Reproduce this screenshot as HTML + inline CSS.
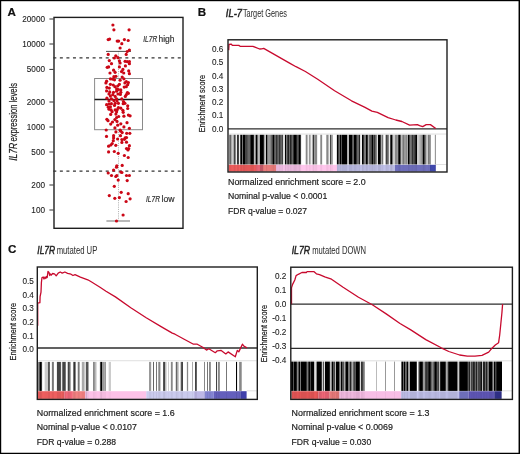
<!DOCTYPE html>
<html><head><meta charset="utf-8"><style>
html,body{margin:0;padding:0;background:#fff;width:520px;height:454px;overflow:hidden}
svg{display:block;will-change:transform}
text{font-family:"Liberation Sans", sans-serif}
</style></head><body>
<svg width="520" height="454" viewBox="0 0 520 454" font-family='"Liberation Sans", sans-serif' fill="#1c1c1c"><text x="7.60" y="15.70" font-size="11.6" stroke="#111" stroke-width="0.2" font-weight="bold" fill="#111">A</text>
<rect x="54" y="17.4" width="129" height="210.9" fill="none" stroke="#1e1e1e" stroke-width="1.4"/>
<line x1="49.4" y1="19" x2="53.5" y2="19" stroke="#333" stroke-width="1"/>
<text x="45.00" y="21.90" font-size="8.2" stroke="#1c1c1c" stroke-width="0.1" text-anchor="end">20000</text>
<line x1="49.4" y1="44" x2="53.5" y2="44" stroke="#333" stroke-width="1"/>
<text x="45.00" y="46.90" font-size="8.2" stroke="#1c1c1c" stroke-width="0.1" text-anchor="end">10000</text>
<line x1="49.4" y1="69.4" x2="53.5" y2="69.4" stroke="#333" stroke-width="1"/>
<text x="45.00" y="72.30" font-size="8.2" stroke="#1c1c1c" stroke-width="0.1" text-anchor="end">5000</text>
<line x1="49.4" y1="102" x2="53.5" y2="102" stroke="#333" stroke-width="1"/>
<text x="45.00" y="104.90" font-size="8.2" stroke="#1c1c1c" stroke-width="0.1" text-anchor="end">2000</text>
<line x1="49.4" y1="127" x2="53.5" y2="127" stroke="#333" stroke-width="1"/>
<text x="45.00" y="129.90" font-size="8.2" stroke="#1c1c1c" stroke-width="0.1" text-anchor="end">1000</text>
<line x1="49.4" y1="152" x2="53.5" y2="152" stroke="#333" stroke-width="1"/>
<text x="45.00" y="154.90" font-size="8.2" stroke="#1c1c1c" stroke-width="0.1" text-anchor="end">500</text>
<line x1="49.4" y1="185" x2="53.5" y2="185" stroke="#333" stroke-width="1"/>
<text x="45.00" y="187.90" font-size="8.2" stroke="#1c1c1c" stroke-width="0.1" text-anchor="end">200</text>
<line x1="49.4" y1="210" x2="53.5" y2="210" stroke="#333" stroke-width="1"/>
<text x="45.00" y="212.90" font-size="8.2" stroke="#1c1c1c" stroke-width="0.1" text-anchor="end">100</text>
<text x="17.00" y="160.80" font-size="10" stroke="#1c1c1c" stroke-width="0.2" font-style="italic" textLength="18.00" lengthAdjust="spacingAndGlyphs" transform="rotate(-90 17.00 160.80)">IL7R</text>
<text x="17.00" y="141.50" font-size="10" stroke="#1c1c1c" stroke-width="0.2" textLength="58.50" lengthAdjust="spacingAndGlyphs" transform="rotate(-90 17.00 141.50)">expression levels</text>
<line x1="118.5" y1="51.3" x2="118.5" y2="78.5" stroke="#999" stroke-width="0.8" stroke-dasharray="1,1.2"/>
<line x1="118.5" y1="129.7" x2="118.5" y2="221" stroke="#999" stroke-width="0.8" stroke-dasharray="1,1.2"/>
<rect x="94.6" y="78.5" width="47.9" height="51.2" fill="none" stroke="#8a8a8a" stroke-width="1"/>
<line x1="94.6" y1="99.5" x2="142.5" y2="99.5" stroke="#1a1a1a" stroke-width="1.6"/>
<line x1="106" y1="51.4" x2="131" y2="51.4" stroke="#3a3a3a" stroke-width="0.9"/>
<line x1="106.4" y1="221" x2="130" y2="221" stroke="#a8a8a8" stroke-width="1.6"/>
<line x1="53.3" y1="57.9" x2="182.3" y2="57.9" stroke="#333" stroke-width="1.3" stroke-dasharray="3,3.55"/>
<line x1="53.3" y1="171.1" x2="182.3" y2="171.1" stroke="#333" stroke-width="1.3" stroke-dasharray="3,3.55"/>
<text x="143.20" y="42.30" font-size="8.5" stroke="#333" stroke-width="0.2" font-style="italic" textLength="14.00" lengthAdjust="spacingAndGlyphs" fill="#333">IL7R</text>
<text x="158.50" y="42.30" font-size="8.5" stroke="#333" stroke-width="0.2" textLength="16.00" lengthAdjust="spacingAndGlyphs" fill="#333">high</text>
<text x="146.00" y="201.70" font-size="8.5" stroke="#333" stroke-width="0.2" font-style="italic" textLength="14.00" lengthAdjust="spacingAndGlyphs" fill="#333">IL7R</text>
<text x="161.50" y="201.70" font-size="8.5" stroke="#333" stroke-width="0.2" textLength="13.00" lengthAdjust="spacingAndGlyphs" fill="#333">low</text>
<circle cx="112.9" cy="25.0" r="1.6" fill="#cb0716"/>
<circle cx="113.9" cy="29.8" r="1.6" fill="#cb0716"/>
<circle cx="129.1" cy="29.8" r="1.6" fill="#cb0716"/>
<circle cx="108.2" cy="39.6" r="1.6" fill="#cb0716"/>
<circle cx="109.6" cy="39.1" r="1.6" fill="#cb0716"/>
<circle cx="117.2" cy="41.1" r="1.6" fill="#cb0716"/>
<circle cx="118.6" cy="41.1" r="1.6" fill="#cb0716"/>
<circle cx="124.4" cy="39.6" r="1.6" fill="#cb0716"/>
<circle cx="128.2" cy="40.5" r="1.6" fill="#cb0716"/>
<circle cx="121.8" cy="43.7" r="1.6" fill="#cb0716"/>
<circle cx="120.1" cy="48.0" r="1.6" fill="#cb0716"/>
<circle cx="129.4" cy="50.1" r="1.6" fill="#cb0716"/>
<circle cx="127.2" cy="51.5" r="1.6" fill="#cb0716"/>
<circle cx="108.2" cy="54.4" r="1.6" fill="#cb0716"/>
<circle cx="126.2" cy="54.4" r="1.6" fill="#cb0716"/>
<circle cx="115.8" cy="55.8" r="1.6" fill="#cb0716"/>
<circle cx="114.3" cy="58.0" r="1.6" fill="#cb0716"/>
<circle cx="117.9" cy="57.7" r="1.6" fill="#cb0716"/>
<circle cx="109.3" cy="60.6" r="1.6" fill="#cb0716"/>
<circle cx="119.4" cy="60.8" r="1.6" fill="#cb0716"/>
<circle cx="125.1" cy="61.3" r="1.6" fill="#cb0716"/>
<circle cx="127.2" cy="61.6" r="1.6" fill="#cb0716"/>
<circle cx="129.4" cy="61.6" r="1.6" fill="#cb0716"/>
<circle cx="111.5" cy="63.7" r="1.6" fill="#cb0716"/>
<circle cx="120.1" cy="63.0" r="1.6" fill="#cb0716"/>
<circle cx="129.4" cy="63.7" r="1.6" fill="#cb0716"/>
<circle cx="107.2" cy="67.3" r="1.6" fill="#cb0716"/>
<circle cx="108.6" cy="66.9" r="1.6" fill="#cb0716"/>
<circle cx="119.4" cy="66.9" r="1.6" fill="#cb0716"/>
<circle cx="125.4" cy="65.9" r="1.6" fill="#cb0716"/>
<circle cx="122.9" cy="69.4" r="1.6" fill="#cb0716"/>
<circle cx="110.0" cy="73.0" r="1.6" fill="#cb0716"/>
<circle cx="113.6" cy="70.2" r="1.6" fill="#cb0716"/>
<circle cx="115.1" cy="72.3" r="1.6" fill="#cb0716"/>
<circle cx="121.5" cy="71.6" r="1.6" fill="#cb0716"/>
<circle cx="123.7" cy="73.0" r="1.6" fill="#cb0716"/>
<circle cx="128.7" cy="70.9" r="1.6" fill="#cb0716"/>
<circle cx="129.4" cy="73.7" r="1.6" fill="#cb0716"/>
<circle cx="113.9" cy="76.7" r="1.6" fill="#cb0716"/>
<circle cx="115.9" cy="76.3" r="1.6" fill="#cb0716"/>
<circle cx="122.2" cy="77.0" r="1.6" fill="#cb0716"/>
<circle cx="123.9" cy="78.8" r="1.6" fill="#cb0716"/>
<circle cx="110.4" cy="78.8" r="1.6" fill="#cb0716"/>
<circle cx="112.5" cy="79.1" r="1.6" fill="#cb0716"/>
<circle cx="114.5" cy="79.8" r="1.6" fill="#cb0716"/>
<circle cx="120.1" cy="80.2" r="1.6" fill="#cb0716"/>
<circle cx="106.6" cy="81.2" r="1.6" fill="#cb0716"/>
<circle cx="126.3" cy="81.5" r="1.6" fill="#cb0716"/>
<circle cx="128.4" cy="82.6" r="1.6" fill="#cb0716"/>
<circle cx="105.9" cy="82.9" r="1.6" fill="#cb0716"/>
<circle cx="124.9" cy="82.9" r="1.6" fill="#cb0716"/>
<circle cx="110.4" cy="84.3" r="1.6" fill="#cb0716"/>
<circle cx="113.2" cy="85.0" r="1.6" fill="#cb0716"/>
<circle cx="119.4" cy="84.3" r="1.6" fill="#cb0716"/>
<circle cx="127.7" cy="84.7" r="1.6" fill="#cb0716"/>
<circle cx="117.7" cy="86.0" r="1.6" fill="#cb0716"/>
<circle cx="114.9" cy="86.7" r="1.6" fill="#cb0716"/>
<circle cx="106.9" cy="87.4" r="1.6" fill="#cb0716"/>
<circle cx="109.3" cy="88.1" r="1.6" fill="#cb0716"/>
<circle cx="124.2" cy="87.1" r="1.6" fill="#cb0716"/>
<circle cx="126.3" cy="86.7" r="1.6" fill="#cb0716"/>
<circle cx="116.6" cy="88.8" r="1.6" fill="#cb0716"/>
<circle cx="120.8" cy="89.9" r="1.6" fill="#cb0716"/>
<circle cx="118.4" cy="89.5" r="1.6" fill="#cb0716"/>
<circle cx="106.6" cy="90.9" r="1.6" fill="#cb0716"/>
<circle cx="109.7" cy="91.9" r="1.6" fill="#cb0716"/>
<circle cx="113.5" cy="92.3" r="1.6" fill="#cb0716"/>
<circle cx="116.6" cy="91.2" r="1.6" fill="#cb0716"/>
<circle cx="120.8" cy="92.3" r="1.6" fill="#cb0716"/>
<circle cx="127.4" cy="92.6" r="1.6" fill="#cb0716"/>
<circle cx="128.4" cy="93.3" r="1.6" fill="#cb0716"/>
<circle cx="109.0" cy="94.0" r="1.6" fill="#cb0716"/>
<circle cx="112.8" cy="94.7" r="1.6" fill="#cb0716"/>
<circle cx="118.0" cy="94.0" r="1.6" fill="#cb0716"/>
<circle cx="120.4" cy="94.4" r="1.6" fill="#cb0716"/>
<circle cx="126.3" cy="94.7" r="1.6" fill="#cb0716"/>
<circle cx="125.3" cy="96.4" r="1.6" fill="#cb0716"/>
<circle cx="110.4" cy="96.1" r="1.6" fill="#cb0716"/>
<circle cx="115.2" cy="96.4" r="1.6" fill="#cb0716"/>
<circle cx="106.9" cy="98.2" r="1.6" fill="#cb0716"/>
<circle cx="111.4" cy="98.9" r="1.6" fill="#cb0716"/>
<circle cx="116.6" cy="98.9" r="1.6" fill="#cb0716"/>
<circle cx="121.8" cy="98.9" r="1.6" fill="#cb0716"/>
<circle cx="109.0" cy="100.9" r="1.6" fill="#cb0716"/>
<circle cx="113.9" cy="100.6" r="1.6" fill="#cb0716"/>
<circle cx="117.0" cy="100.9" r="1.6" fill="#cb0716"/>
<circle cx="123.5" cy="101.6" r="1.6" fill="#cb0716"/>
<circle cx="106.6" cy="104.7" r="1.6" fill="#cb0716"/>
<circle cx="109.0" cy="104.0" r="1.6" fill="#cb0716"/>
<circle cx="111.4" cy="103.7" r="1.6" fill="#cb0716"/>
<circle cx="115.2" cy="103.3" r="1.6" fill="#cb0716"/>
<circle cx="118.4" cy="103.3" r="1.6" fill="#cb0716"/>
<circle cx="123.2" cy="103.7" r="1.6" fill="#cb0716"/>
<circle cx="124.9" cy="103.3" r="1.6" fill="#cb0716"/>
<circle cx="114.5" cy="105.4" r="1.6" fill="#cb0716"/>
<circle cx="127.7" cy="105.8" r="1.6" fill="#cb0716"/>
<circle cx="108.3" cy="107.2" r="1.6" fill="#cb0716"/>
<circle cx="110.4" cy="106.8" r="1.6" fill="#cb0716"/>
<circle cx="118.4" cy="107.5" r="1.6" fill="#cb0716"/>
<circle cx="120.8" cy="108.2" r="1.6" fill="#cb0716"/>
<circle cx="127.7" cy="108.5" r="1.6" fill="#cb0716"/>
<circle cx="109.0" cy="109.2" r="1.6" fill="#cb0716"/>
<circle cx="111.1" cy="109.9" r="1.6" fill="#cb0716"/>
<circle cx="115.2" cy="109.9" r="1.6" fill="#cb0716"/>
<circle cx="117.3" cy="109.6" r="1.6" fill="#cb0716"/>
<circle cx="122.9" cy="110.3" r="1.6" fill="#cb0716"/>
<circle cx="112.1" cy="111.7" r="1.6" fill="#cb0716"/>
<circle cx="116.6" cy="111.7" r="1.6" fill="#cb0716"/>
<circle cx="123.2" cy="112.3" r="1.6" fill="#cb0716"/>
<circle cx="110.7" cy="114.4" r="1.6" fill="#cb0716"/>
<circle cx="115.9" cy="114.1" r="1.6" fill="#cb0716"/>
<circle cx="128.4" cy="115.1" r="1.6" fill="#cb0716"/>
<circle cx="130.1" cy="115.8" r="1.6" fill="#cb0716"/>
<circle cx="123.9" cy="116.2" r="1.6" fill="#cb0716"/>
<circle cx="118.7" cy="116.5" r="1.6" fill="#cb0716"/>
<circle cx="116.6" cy="117.5" r="1.6" fill="#cb0716"/>
<circle cx="106.9" cy="119.3" r="1.6" fill="#cb0716"/>
<circle cx="108.0" cy="120.7" r="1.6" fill="#cb0716"/>
<circle cx="114.9" cy="119.6" r="1.6" fill="#cb0716"/>
<circle cx="117.0" cy="121.4" r="1.6" fill="#cb0716"/>
<circle cx="112.5" cy="122.0" r="1.6" fill="#cb0716"/>
<circle cx="127.0" cy="122.7" r="1.6" fill="#cb0716"/>
<circle cx="110.7" cy="124.1" r="1.6" fill="#cb0716"/>
<circle cx="120.8" cy="123.8" r="1.6" fill="#cb0716"/>
<circle cx="117.7" cy="125.2" r="1.6" fill="#cb0716"/>
<circle cx="123.9" cy="126.9" r="1.6" fill="#cb0716"/>
<circle cx="114.9" cy="127.9" r="1.6" fill="#cb0716"/>
<circle cx="129.4" cy="128.3" r="1.6" fill="#cb0716"/>
<circle cx="106.2" cy="130.0" r="1.6" fill="#cb0716"/>
<circle cx="120.1" cy="130.0" r="1.6" fill="#cb0716"/>
<circle cx="115.9" cy="131.9" r="1.6" fill="#cb0716"/>
<circle cx="120.8" cy="131.2" r="1.6" fill="#cb0716"/>
<circle cx="122.2" cy="132.6" r="1.6" fill="#cb0716"/>
<circle cx="126.7" cy="133.3" r="1.6" fill="#cb0716"/>
<circle cx="129.8" cy="133.3" r="1.6" fill="#cb0716"/>
<circle cx="106.5" cy="136.4" r="1.6" fill="#cb0716"/>
<circle cx="113.6" cy="135.7" r="1.6" fill="#cb0716"/>
<circle cx="113.6" cy="137.9" r="1.6" fill="#cb0716"/>
<circle cx="120.5" cy="135.7" r="1.6" fill="#cb0716"/>
<circle cx="125.1" cy="137.9" r="1.6" fill="#cb0716"/>
<circle cx="126.5" cy="137.6" r="1.6" fill="#cb0716"/>
<circle cx="117.6" cy="139.0" r="1.6" fill="#cb0716"/>
<circle cx="121.9" cy="139.6" r="1.6" fill="#cb0716"/>
<circle cx="113.3" cy="140.7" r="1.6" fill="#cb0716"/>
<circle cx="124.4" cy="139.3" r="1.6" fill="#cb0716"/>
<circle cx="121.9" cy="142.4" r="1.6" fill="#cb0716"/>
<circle cx="126.5" cy="142.2" r="1.6" fill="#cb0716"/>
<circle cx="112.2" cy="143.6" r="1.6" fill="#cb0716"/>
<circle cx="110.8" cy="145.0" r="1.6" fill="#cb0716"/>
<circle cx="108.6" cy="146.2" r="1.6" fill="#cb0716"/>
<circle cx="115.8" cy="145.3" r="1.6" fill="#cb0716"/>
<circle cx="129.4" cy="145.7" r="1.6" fill="#cb0716"/>
<circle cx="126.5" cy="148.6" r="1.6" fill="#cb0716"/>
<circle cx="128.7" cy="148.6" r="1.6" fill="#cb0716"/>
<circle cx="128.0" cy="150.0" r="1.6" fill="#cb0716"/>
<circle cx="108.6" cy="151.9" r="1.6" fill="#cb0716"/>
<circle cx="114.3" cy="151.5" r="1.6" fill="#cb0716"/>
<circle cx="118.2" cy="153.3" r="1.6" fill="#cb0716"/>
<circle cx="124.4" cy="155.5" r="1.6" fill="#cb0716"/>
<circle cx="128.2" cy="157.5" r="1.6" fill="#cb0716"/>
<circle cx="116.8" cy="165.8" r="1.6" fill="#cb0716"/>
<circle cx="116.5" cy="167.2" r="1.6" fill="#cb0716"/>
<circle cx="122.2" cy="165.4" r="1.6" fill="#cb0716"/>
<circle cx="113.6" cy="170.1" r="1.6" fill="#cb0716"/>
<circle cx="108.2" cy="173.0" r="1.6" fill="#cb0716"/>
<circle cx="120.8" cy="172.0" r="1.6" fill="#cb0716"/>
<circle cx="121.9" cy="172.5" r="1.6" fill="#cb0716"/>
<circle cx="111.5" cy="175.5" r="1.6" fill="#cb0716"/>
<circle cx="115.8" cy="176.5" r="1.6" fill="#cb0716"/>
<circle cx="116.8" cy="175.5" r="1.6" fill="#cb0716"/>
<circle cx="126.5" cy="175.5" r="1.6" fill="#cb0716"/>
<circle cx="129.4" cy="175.5" r="1.6" fill="#cb0716"/>
<circle cx="118.2" cy="180.1" r="1.6" fill="#cb0716"/>
<circle cx="127.2" cy="180.6" r="1.6" fill="#cb0716"/>
<circle cx="114.3" cy="186.3" r="1.6" fill="#cb0716"/>
<circle cx="121.2" cy="192.3" r="1.6" fill="#cb0716"/>
<circle cx="109.3" cy="195.6" r="1.6" fill="#cb0716"/>
<circle cx="128.2" cy="193.7" r="1.6" fill="#cb0716"/>
<circle cx="114.8" cy="198.3" r="1.6" fill="#cb0716"/>
<circle cx="119.4" cy="197.6" r="1.6" fill="#cb0716"/>
<circle cx="130.1" cy="198.8" r="1.6" fill="#cb0716"/>
<circle cx="126.1" cy="201.5" r="1.6" fill="#cb0716"/>
<circle cx="123.1" cy="215.0" r="1.6" fill="#cb0716"/>
<circle cx="116.5" cy="221.0" r="1.6" fill="#cb0716"/>
<rect x="228.50" y="133.40" width="218.00" height="1.30" fill="#e6e6e6"/>
<rect x="435.80" y="164.00" width="10.70" height="0.90" fill="#dddddd"/>
<rect x="229.00" y="134.80" width="1.00" height="29.70" fill="#888888"/>
<rect x="230.00" y="134.80" width="1.00" height="29.70" fill="#666666"/>
<rect x="231.00" y="134.80" width="1.00" height="29.70" fill="#aaaaaa"/>
<rect x="232.00" y="134.80" width="1.00" height="29.70" fill="#cccccc"/>
<rect x="233.00" y="134.80" width="1.00" height="29.70" fill="#aaaaaa"/>
<rect x="234.00" y="134.80" width="1.00" height="29.70" fill="#444444"/>
<rect x="235.00" y="134.80" width="1.00" height="29.70" fill="#888888"/>
<rect x="236.00" y="134.80" width="1.00" height="29.70" fill="#eeeeee"/>
<rect x="237.00" y="134.80" width="1.00" height="29.70" fill="#333333"/>
<rect x="238.00" y="134.80" width="1.00" height="29.70" fill="#444444"/>
<rect x="239.00" y="134.80" width="1.00" height="29.70" fill="#eeeeee"/>
<rect x="240.00" y="134.80" width="1.00" height="29.70" fill="#444444"/>
<rect x="241.00" y="134.80" width="1.00" height="29.70" fill="#000000"/>
<rect x="242.00" y="134.80" width="1.00" height="29.70" fill="#777777"/>
<rect x="243.00" y="134.80" width="2.00" height="29.70" fill="#000000"/>
<rect x="245.00" y="134.80" width="2.00" height="29.70" fill="#444444"/>
<rect x="247.00" y="134.80" width="1.00" height="29.70" fill="#555555"/>
<rect x="248.00" y="134.80" width="2.00" height="29.70" fill="#666666"/>
<rect x="250.00" y="134.80" width="1.00" height="29.70" fill="#333333"/>
<rect x="251.00" y="134.80" width="2.00" height="29.70" fill="#000000"/>
<rect x="253.00" y="134.80" width="1.00" height="29.70" fill="#222222"/>
<rect x="254.00" y="134.80" width="1.00" height="29.70" fill="#bbbbbb"/>
<rect x="255.00" y="134.80" width="1.00" height="29.70" fill="#888888"/>
<rect x="256.00" y="134.80" width="1.00" height="29.70" fill="#000000"/>
<rect x="257.00" y="134.80" width="1.00" height="29.70" fill="#666666"/>
<rect x="258.00" y="134.80" width="1.00" height="29.70" fill="#bbbbbb"/>
<rect x="259.00" y="134.80" width="1.00" height="29.70" fill="#aaaaaa"/>
<rect x="260.00" y="134.80" width="3.00" height="29.70" fill="#000000"/>
<rect x="263.00" y="134.80" width="1.00" height="29.70" fill="#222222"/>
<rect x="264.00" y="134.80" width="1.00" height="29.70" fill="#aaaaaa"/>
<rect x="265.00" y="134.80" width="1.00" height="29.70" fill="#cccccc"/>
<rect x="266.00" y="134.80" width="1.00" height="29.70" fill="#000000"/>
<rect x="267.00" y="134.80" width="1.00" height="29.70" fill="#777777"/>
<rect x="268.00" y="134.80" width="2.00" height="29.70" fill="#999999"/>
<rect x="270.00" y="134.80" width="1.00" height="29.70" fill="#888888"/>
<rect x="271.00" y="134.80" width="1.00" height="29.70" fill="#666666"/>
<rect x="272.00" y="134.80" width="1.00" height="29.70" fill="#444444"/>
<rect x="273.00" y="134.80" width="1.00" height="29.70" fill="#000000"/>
<rect x="274.00" y="134.80" width="1.00" height="29.70" fill="#555555"/>
<rect x="275.00" y="134.80" width="1.00" height="29.70" fill="#666666"/>
<rect x="276.00" y="134.80" width="1.00" height="29.70" fill="#333333"/>
<rect x="277.00" y="134.80" width="1.00" height="29.70" fill="#555555"/>
<rect x="278.00" y="134.80" width="1.00" height="29.70" fill="#666666"/>
<rect x="279.00" y="134.80" width="1.00" height="29.70" fill="#333333"/>
<rect x="280.00" y="134.80" width="1.00" height="29.70" fill="#555555"/>
<rect x="281.00" y="134.80" width="1.00" height="29.70" fill="#666666"/>
<rect x="282.00" y="134.80" width="1.00" height="29.70" fill="#444444"/>
<rect x="283.00" y="134.80" width="2.00" height="29.70" fill="#dddddd"/>
<rect x="285.00" y="134.80" width="1.00" height="29.70" fill="#000000"/>
<rect x="286.00" y="134.80" width="1.00" height="29.70" fill="#777777"/>
<rect x="287.00" y="134.80" width="1.00" height="29.70" fill="#444444"/>
<rect x="288.00" y="134.80" width="1.00" height="29.70" fill="#222222"/>
<rect x="289.00" y="134.80" width="1.00" height="29.70" fill="#666666"/>
<rect x="290.00" y="134.80" width="1.00" height="29.70" fill="#222222"/>
<rect x="291.00" y="134.80" width="1.00" height="29.70" fill="#444444"/>
<rect x="292.00" y="134.80" width="1.00" height="29.70" fill="#666666"/>
<rect x="293.00" y="134.80" width="1.00" height="29.70" fill="#333333"/>
<rect x="294.00" y="134.80" width="2.00" height="29.70" fill="#000000"/>
<rect x="296.00" y="134.80" width="1.00" height="29.70" fill="#222222"/>
<rect x="297.00" y="134.80" width="1.00" height="29.70" fill="#555555"/>
<rect x="298.00" y="134.80" width="1.00" height="29.70" fill="#444444"/>
<rect x="299.00" y="134.80" width="1.00" height="29.70" fill="#000000"/>
<rect x="300.00" y="134.80" width="1.00" height="29.70" fill="#333333"/>
<rect x="301.00" y="134.80" width="1.00" height="29.70" fill="#eeeeee"/>
<rect x="305.00" y="134.80" width="1.00" height="29.70" fill="#dddddd"/>
<rect x="306.00" y="134.80" width="1.00" height="29.70" fill="#888888"/>
<rect x="307.00" y="134.80" width="1.00" height="29.70" fill="#bbbbbb"/>
<rect x="308.00" y="134.80" width="1.00" height="29.70" fill="#eeeeee"/>
<rect x="309.00" y="134.80" width="1.00" height="29.70" fill="#999999"/>
<rect x="310.00" y="134.80" width="1.00" height="29.70" fill="#bbbbbb"/>
<rect x="311.00" y="134.80" width="1.00" height="29.70" fill="#eeeeee"/>
<rect x="312.00" y="134.80" width="1.00" height="29.70" fill="#aaaaaa"/>
<rect x="313.00" y="134.80" width="1.00" height="29.70" fill="#333333"/>
<rect x="314.00" y="134.80" width="1.00" height="29.70" fill="#999999"/>
<rect x="315.00" y="134.80" width="2.00" height="29.70" fill="#888888"/>
<rect x="317.00" y="134.80" width="1.00" height="29.70" fill="#eeeeee"/>
<rect x="320.00" y="134.80" width="1.00" height="29.70" fill="#aaaaaa"/>
<rect x="321.00" y="134.80" width="1.00" height="29.70" fill="#888888"/>
<rect x="322.00" y="134.80" width="1.00" height="29.70" fill="#eeeeee"/>
<rect x="326.00" y="134.80" width="1.00" height="29.70" fill="#aaaaaa"/>
<rect x="327.00" y="134.80" width="1.00" height="29.70" fill="#888888"/>
<rect x="328.00" y="134.80" width="1.00" height="29.70" fill="#bbbbbb"/>
<rect x="329.00" y="134.80" width="1.00" height="29.70" fill="#eeeeee"/>
<rect x="330.00" y="134.80" width="1.00" height="29.70" fill="#444444"/>
<rect x="331.00" y="134.80" width="1.00" height="29.70" fill="#999999"/>
<rect x="332.00" y="134.80" width="1.00" height="29.70" fill="#aaaaaa"/>
<rect x="336.00" y="134.80" width="1.00" height="29.70" fill="#dddddd"/>
<rect x="337.00" y="134.80" width="1.00" height="29.70" fill="#000000"/>
<rect x="338.00" y="134.80" width="1.00" height="29.70" fill="#444444"/>
<rect x="339.00" y="134.80" width="1.00" height="29.70" fill="#666666"/>
<rect x="340.00" y="134.80" width="1.00" height="29.70" fill="#000000"/>
<rect x="341.00" y="134.80" width="1.00" height="29.70" fill="#555555"/>
<rect x="342.00" y="134.80" width="5.00" height="29.70" fill="#000000"/>
<rect x="347.00" y="134.80" width="1.00" height="29.70" fill="#aaaaaa"/>
<rect x="348.00" y="134.80" width="1.00" height="29.70" fill="#bbbbbb"/>
<rect x="349.00" y="134.80" width="3.00" height="29.70" fill="#000000"/>
<rect x="352.00" y="134.80" width="1.00" height="29.70" fill="#555555"/>
<rect x="353.00" y="134.80" width="1.00" height="29.70" fill="#666666"/>
<rect x="354.00" y="134.80" width="2.00" height="29.70" fill="#000000"/>
<rect x="356.00" y="134.80" width="1.00" height="29.70" fill="#333333"/>
<rect x="357.00" y="134.80" width="2.00" height="29.70" fill="#666666"/>
<rect x="359.00" y="134.80" width="1.00" height="29.70" fill="#222222"/>
<rect x="360.00" y="134.80" width="1.00" height="29.70" fill="#dddddd"/>
<rect x="361.00" y="134.80" width="1.00" height="29.70" fill="#eeeeee"/>
<rect x="362.00" y="134.80" width="1.00" height="29.70" fill="#000000"/>
<rect x="363.00" y="134.80" width="1.00" height="29.70" fill="#333333"/>
<rect x="364.00" y="134.80" width="2.00" height="29.70" fill="#777777"/>
<rect x="366.00" y="134.80" width="1.00" height="29.70" fill="#000000"/>
<rect x="367.00" y="134.80" width="1.00" height="29.70" fill="#333333"/>
<rect x="368.00" y="134.80" width="1.00" height="29.70" fill="#aaaaaa"/>
<rect x="369.00" y="134.80" width="1.00" height="29.70" fill="#666666"/>
<rect x="370.00" y="134.80" width="1.00" height="29.70" fill="#555555"/>
<rect x="371.00" y="134.80" width="1.00" height="29.70" fill="#444444"/>
<rect x="372.00" y="134.80" width="1.00" height="29.70" fill="#000000"/>
<rect x="373.00" y="134.80" width="1.00" height="29.70" fill="#555555"/>
<rect x="374.00" y="134.80" width="1.00" height="29.70" fill="#333333"/>
<rect x="375.00" y="134.80" width="1.00" height="29.70" fill="#666666"/>
<rect x="376.00" y="134.80" width="1.00" height="29.70" fill="#888888"/>
<rect x="377.00" y="134.80" width="1.00" height="29.70" fill="#dddddd"/>
<rect x="378.00" y="134.80" width="2.00" height="29.70" fill="#000000"/>
<rect x="380.00" y="134.80" width="1.00" height="29.70" fill="#333333"/>
<rect x="381.00" y="134.80" width="1.00" height="29.70" fill="#aaaaaa"/>
<rect x="382.00" y="134.80" width="1.00" height="29.70" fill="#777777"/>
<rect x="383.00" y="134.80" width="1.00" height="29.70" fill="#dddddd"/>
<rect x="385.00" y="134.80" width="1.00" height="29.70" fill="#bbbbbb"/>
<rect x="386.00" y="134.80" width="1.00" height="29.70" fill="#444444"/>
<rect x="387.00" y="134.80" width="1.00" height="29.70" fill="#666666"/>
<rect x="388.00" y="134.80" width="1.00" height="29.70" fill="#888888"/>
<rect x="389.00" y="134.80" width="1.00" height="29.70" fill="#eeeeee"/>
<rect x="390.00" y="134.80" width="1.00" height="29.70" fill="#444444"/>
<rect x="391.00" y="134.80" width="1.00" height="29.70" fill="#000000"/>
<rect x="392.00" y="134.80" width="1.00" height="29.70" fill="#777777"/>
<rect x="393.00" y="134.80" width="2.00" height="29.70" fill="#cccccc"/>
<rect x="395.00" y="134.80" width="2.00" height="29.70" fill="#888888"/>
<rect x="397.00" y="134.80" width="1.00" height="29.70" fill="#999999"/>
<rect x="398.00" y="134.80" width="1.00" height="29.70" fill="#333333"/>
<rect x="399.00" y="134.80" width="1.00" height="29.70" fill="#000000"/>
<rect x="400.00" y="134.80" width="1.00" height="29.70" fill="#555555"/>
<rect x="401.00" y="134.80" width="1.00" height="29.70" fill="#bbbbbb"/>
<rect x="402.00" y="134.80" width="1.00" height="29.70" fill="#999999"/>
<rect x="403.00" y="134.80" width="1.00" height="29.70" fill="#777777"/>
<rect x="404.00" y="134.80" width="2.00" height="29.70" fill="#999999"/>
<rect x="406.00" y="134.80" width="1.00" height="29.70" fill="#888888"/>
<rect x="407.00" y="134.80" width="1.00" height="29.70" fill="#aaaaaa"/>
<rect x="408.00" y="134.80" width="1.00" height="29.70" fill="#000000"/>
<rect x="409.00" y="134.80" width="1.00" height="29.70" fill="#444444"/>
<rect x="410.00" y="134.80" width="1.00" height="29.70" fill="#777777"/>
<rect x="411.00" y="134.80" width="1.00" height="29.70" fill="#666666"/>
<rect x="412.00" y="134.80" width="1.00" height="29.70" fill="#333333"/>
<rect x="413.00" y="134.80" width="1.00" height="29.70" fill="#555555"/>
<rect x="414.00" y="134.80" width="1.00" height="29.70" fill="#444444"/>
<rect x="415.00" y="134.80" width="1.00" height="29.70" fill="#222222"/>
<rect x="416.00" y="134.80" width="1.00" height="29.70" fill="#000000"/>
<rect x="417.00" y="134.80" width="2.00" height="29.70" fill="#cccccc"/>
<rect x="419.00" y="134.80" width="1.00" height="29.70" fill="#bbbbbb"/>
<rect x="420.00" y="134.80" width="1.00" height="29.70" fill="#aaaaaa"/>
<rect x="421.00" y="134.80" width="1.00" height="29.70" fill="#999999"/>
<rect x="422.00" y="134.80" width="1.00" height="29.70" fill="#777777"/>
<rect x="423.00" y="134.80" width="1.00" height="29.70" fill="#000000"/>
<rect x="424.00" y="134.80" width="1.00" height="29.70" fill="#444444"/>
<rect x="425.00" y="134.80" width="1.00" height="29.70" fill="#777777"/>
<rect x="426.00" y="134.80" width="1.00" height="29.70" fill="#bbbbbb"/>
<rect x="427.00" y="134.80" width="1.00" height="29.70" fill="#cccccc"/>
<rect x="428.00" y="134.80" width="1.00" height="29.70" fill="#777777"/>
<rect x="429.00" y="134.80" width="1.00" height="29.70" fill="#888888"/>
<rect x="430.00" y="134.80" width="1.00" height="29.70" fill="#999999"/>
<rect x="434.00" y="134.80" width="1.00" height="29.70" fill="#eeeeee"/>
<rect x="435.00" y="134.80" width="1.00" height="29.70" fill="#999999"/>
<rect x="228.60" y="164.80" width="27.40" height="6.80" fill="#f15d5d"/>
<rect x="256.00" y="164.80" width="4.00" height="6.80" fill="#ed6879"/>
<rect x="260.00" y="164.80" width="3.00" height="6.80" fill="#d15f70"/>
<rect x="263.00" y="164.80" width="13.00" height="6.80" fill="#f07f7f"/>
<rect x="276.00" y="164.80" width="24.00" height="6.80" fill="#f7c2ea"/>
<rect x="300.00" y="164.80" width="37.00" height="6.80" fill="#ffc6ec"/>
<rect x="337.00" y="164.80" width="58.00" height="6.80" fill="#c0c0e8"/>
<rect x="395.00" y="164.80" width="35.00" height="6.80" fill="#7272c2"/>
<rect x="430.00" y="164.80" width="5.80" height="6.80" fill="#4048ab"/>
<rect x="229.00" y="164.80" width="1.00" height="6.80" fill="#000" fill-opacity="0.042"/>
<rect x="230.00" y="164.80" width="1.00" height="6.80" fill="#000" fill-opacity="0.054"/>
<rect x="231.00" y="164.80" width="1.00" height="6.80" fill="#000" fill-opacity="0.030"/>
<rect x="232.00" y="164.80" width="1.00" height="6.80" fill="#000" fill-opacity="0.018"/>
<rect x="233.00" y="164.80" width="1.00" height="6.80" fill="#000" fill-opacity="0.030"/>
<rect x="234.00" y="164.80" width="1.00" height="6.80" fill="#000" fill-opacity="0.066"/>
<rect x="235.00" y="164.80" width="1.00" height="6.80" fill="#000" fill-opacity="0.042"/>
<rect x="236.00" y="164.80" width="1.00" height="6.80" fill="#000" fill-opacity="0.006"/>
<rect x="237.00" y="164.80" width="1.00" height="6.80" fill="#000" fill-opacity="0.072"/>
<rect x="238.00" y="164.80" width="1.00" height="6.80" fill="#000" fill-opacity="0.066"/>
<rect x="239.00" y="164.80" width="1.00" height="6.80" fill="#000" fill-opacity="0.006"/>
<rect x="240.00" y="164.80" width="1.00" height="6.80" fill="#000" fill-opacity="0.066"/>
<rect x="241.00" y="164.80" width="1.00" height="6.80" fill="#000" fill-opacity="0.090"/>
<rect x="242.00" y="164.80" width="1.00" height="6.80" fill="#000" fill-opacity="0.048"/>
<rect x="243.00" y="164.80" width="1.00" height="6.80" fill="#000" fill-opacity="0.090"/>
<rect x="244.00" y="164.80" width="1.00" height="6.80" fill="#000" fill-opacity="0.090"/>
<rect x="245.00" y="164.80" width="1.00" height="6.80" fill="#000" fill-opacity="0.066"/>
<rect x="246.00" y="164.80" width="1.00" height="6.80" fill="#000" fill-opacity="0.066"/>
<rect x="247.00" y="164.80" width="1.00" height="6.80" fill="#000" fill-opacity="0.060"/>
<rect x="248.00" y="164.80" width="1.00" height="6.80" fill="#000" fill-opacity="0.054"/>
<rect x="249.00" y="164.80" width="1.00" height="6.80" fill="#000" fill-opacity="0.054"/>
<rect x="250.00" y="164.80" width="1.00" height="6.80" fill="#000" fill-opacity="0.072"/>
<rect x="251.00" y="164.80" width="1.00" height="6.80" fill="#000" fill-opacity="0.090"/>
<rect x="252.00" y="164.80" width="1.00" height="6.80" fill="#000" fill-opacity="0.090"/>
<rect x="253.00" y="164.80" width="1.00" height="6.80" fill="#000" fill-opacity="0.078"/>
<rect x="254.00" y="164.80" width="1.00" height="6.80" fill="#000" fill-opacity="0.024"/>
<rect x="255.00" y="164.80" width="1.00" height="6.80" fill="#000" fill-opacity="0.042"/>
<rect x="256.00" y="164.80" width="1.00" height="6.80" fill="#000" fill-opacity="0.090"/>
<rect x="257.00" y="164.80" width="1.00" height="6.80" fill="#000" fill-opacity="0.054"/>
<rect x="258.00" y="164.80" width="1.00" height="6.80" fill="#000" fill-opacity="0.024"/>
<rect x="259.00" y="164.80" width="1.00" height="6.80" fill="#000" fill-opacity="0.030"/>
<rect x="260.00" y="164.80" width="1.00" height="6.80" fill="#000" fill-opacity="0.090"/>
<rect x="261.00" y="164.80" width="1.00" height="6.80" fill="#000" fill-opacity="0.090"/>
<rect x="262.00" y="164.80" width="1.00" height="6.80" fill="#000" fill-opacity="0.090"/>
<rect x="263.00" y="164.80" width="1.00" height="6.80" fill="#000" fill-opacity="0.078"/>
<rect x="264.00" y="164.80" width="1.00" height="6.80" fill="#000" fill-opacity="0.030"/>
<rect x="265.00" y="164.80" width="1.00" height="6.80" fill="#000" fill-opacity="0.018"/>
<rect x="266.00" y="164.80" width="1.00" height="6.80" fill="#000" fill-opacity="0.090"/>
<rect x="267.00" y="164.80" width="1.00" height="6.80" fill="#000" fill-opacity="0.048"/>
<rect x="268.00" y="164.80" width="1.00" height="6.80" fill="#000" fill-opacity="0.036"/>
<rect x="269.00" y="164.80" width="1.00" height="6.80" fill="#000" fill-opacity="0.036"/>
<rect x="270.00" y="164.80" width="1.00" height="6.80" fill="#000" fill-opacity="0.042"/>
<rect x="271.00" y="164.80" width="1.00" height="6.80" fill="#000" fill-opacity="0.054"/>
<rect x="272.00" y="164.80" width="1.00" height="6.80" fill="#000" fill-opacity="0.066"/>
<rect x="273.00" y="164.80" width="1.00" height="6.80" fill="#000" fill-opacity="0.090"/>
<rect x="274.00" y="164.80" width="1.00" height="6.80" fill="#000" fill-opacity="0.060"/>
<rect x="275.00" y="164.80" width="1.00" height="6.80" fill="#000" fill-opacity="0.054"/>
<rect x="276.00" y="164.80" width="1.00" height="6.80" fill="#000" fill-opacity="0.072"/>
<rect x="277.00" y="164.80" width="1.00" height="6.80" fill="#000" fill-opacity="0.060"/>
<rect x="278.00" y="164.80" width="1.00" height="6.80" fill="#000" fill-opacity="0.054"/>
<rect x="279.00" y="164.80" width="1.00" height="6.80" fill="#000" fill-opacity="0.072"/>
<rect x="280.00" y="164.80" width="1.00" height="6.80" fill="#000" fill-opacity="0.060"/>
<rect x="281.00" y="164.80" width="1.00" height="6.80" fill="#000" fill-opacity="0.054"/>
<rect x="282.00" y="164.80" width="1.00" height="6.80" fill="#000" fill-opacity="0.066"/>
<rect x="283.00" y="164.80" width="1.00" height="6.80" fill="#000" fill-opacity="0.012"/>
<rect x="284.00" y="164.80" width="1.00" height="6.80" fill="#000" fill-opacity="0.012"/>
<rect x="285.00" y="164.80" width="1.00" height="6.80" fill="#000" fill-opacity="0.090"/>
<rect x="286.00" y="164.80" width="1.00" height="6.80" fill="#000" fill-opacity="0.048"/>
<rect x="287.00" y="164.80" width="1.00" height="6.80" fill="#000" fill-opacity="0.066"/>
<rect x="288.00" y="164.80" width="1.00" height="6.80" fill="#000" fill-opacity="0.078"/>
<rect x="289.00" y="164.80" width="1.00" height="6.80" fill="#000" fill-opacity="0.054"/>
<rect x="290.00" y="164.80" width="1.00" height="6.80" fill="#000" fill-opacity="0.078"/>
<rect x="291.00" y="164.80" width="1.00" height="6.80" fill="#000" fill-opacity="0.066"/>
<rect x="292.00" y="164.80" width="1.00" height="6.80" fill="#000" fill-opacity="0.054"/>
<rect x="293.00" y="164.80" width="1.00" height="6.80" fill="#000" fill-opacity="0.072"/>
<rect x="294.00" y="164.80" width="1.00" height="6.80" fill="#000" fill-opacity="0.090"/>
<rect x="295.00" y="164.80" width="1.00" height="6.80" fill="#000" fill-opacity="0.090"/>
<rect x="296.00" y="164.80" width="1.00" height="6.80" fill="#000" fill-opacity="0.078"/>
<rect x="297.00" y="164.80" width="1.00" height="6.80" fill="#000" fill-opacity="0.060"/>
<rect x="298.00" y="164.80" width="1.00" height="6.80" fill="#000" fill-opacity="0.066"/>
<rect x="299.00" y="164.80" width="1.00" height="6.80" fill="#000" fill-opacity="0.090"/>
<rect x="300.00" y="164.80" width="1.00" height="6.80" fill="#000" fill-opacity="0.072"/>
<rect x="301.00" y="164.80" width="1.00" height="6.80" fill="#000" fill-opacity="0.006"/>
<rect x="305.00" y="164.80" width="1.00" height="6.80" fill="#000" fill-opacity="0.012"/>
<rect x="306.00" y="164.80" width="1.00" height="6.80" fill="#000" fill-opacity="0.042"/>
<rect x="307.00" y="164.80" width="1.00" height="6.80" fill="#000" fill-opacity="0.024"/>
<rect x="308.00" y="164.80" width="1.00" height="6.80" fill="#000" fill-opacity="0.006"/>
<rect x="309.00" y="164.80" width="1.00" height="6.80" fill="#000" fill-opacity="0.036"/>
<rect x="310.00" y="164.80" width="1.00" height="6.80" fill="#000" fill-opacity="0.024"/>
<rect x="311.00" y="164.80" width="1.00" height="6.80" fill="#000" fill-opacity="0.006"/>
<rect x="312.00" y="164.80" width="1.00" height="6.80" fill="#000" fill-opacity="0.030"/>
<rect x="313.00" y="164.80" width="1.00" height="6.80" fill="#000" fill-opacity="0.072"/>
<rect x="314.00" y="164.80" width="1.00" height="6.80" fill="#000" fill-opacity="0.036"/>
<rect x="315.00" y="164.80" width="1.00" height="6.80" fill="#000" fill-opacity="0.042"/>
<rect x="316.00" y="164.80" width="1.00" height="6.80" fill="#000" fill-opacity="0.042"/>
<rect x="317.00" y="164.80" width="1.00" height="6.80" fill="#000" fill-opacity="0.006"/>
<rect x="320.00" y="164.80" width="1.00" height="6.80" fill="#000" fill-opacity="0.030"/>
<rect x="321.00" y="164.80" width="1.00" height="6.80" fill="#000" fill-opacity="0.042"/>
<rect x="322.00" y="164.80" width="1.00" height="6.80" fill="#000" fill-opacity="0.006"/>
<rect x="326.00" y="164.80" width="1.00" height="6.80" fill="#000" fill-opacity="0.030"/>
<rect x="327.00" y="164.80" width="1.00" height="6.80" fill="#000" fill-opacity="0.042"/>
<rect x="328.00" y="164.80" width="1.00" height="6.80" fill="#000" fill-opacity="0.024"/>
<rect x="329.00" y="164.80" width="1.00" height="6.80" fill="#000" fill-opacity="0.006"/>
<rect x="330.00" y="164.80" width="1.00" height="6.80" fill="#000" fill-opacity="0.066"/>
<rect x="331.00" y="164.80" width="1.00" height="6.80" fill="#000" fill-opacity="0.036"/>
<rect x="332.00" y="164.80" width="1.00" height="6.80" fill="#000" fill-opacity="0.030"/>
<rect x="336.00" y="164.80" width="1.00" height="6.80" fill="#000" fill-opacity="0.012"/>
<rect x="337.00" y="164.80" width="1.00" height="6.80" fill="#000" fill-opacity="0.090"/>
<rect x="338.00" y="164.80" width="1.00" height="6.80" fill="#000" fill-opacity="0.066"/>
<rect x="339.00" y="164.80" width="1.00" height="6.80" fill="#000" fill-opacity="0.054"/>
<rect x="340.00" y="164.80" width="1.00" height="6.80" fill="#000" fill-opacity="0.090"/>
<rect x="341.00" y="164.80" width="1.00" height="6.80" fill="#000" fill-opacity="0.060"/>
<rect x="342.00" y="164.80" width="1.00" height="6.80" fill="#000" fill-opacity="0.090"/>
<rect x="343.00" y="164.80" width="1.00" height="6.80" fill="#000" fill-opacity="0.090"/>
<rect x="344.00" y="164.80" width="1.00" height="6.80" fill="#000" fill-opacity="0.090"/>
<rect x="345.00" y="164.80" width="1.00" height="6.80" fill="#000" fill-opacity="0.090"/>
<rect x="346.00" y="164.80" width="1.00" height="6.80" fill="#000" fill-opacity="0.090"/>
<rect x="347.00" y="164.80" width="1.00" height="6.80" fill="#000" fill-opacity="0.030"/>
<rect x="348.00" y="164.80" width="1.00" height="6.80" fill="#000" fill-opacity="0.024"/>
<rect x="349.00" y="164.80" width="1.00" height="6.80" fill="#000" fill-opacity="0.090"/>
<rect x="350.00" y="164.80" width="1.00" height="6.80" fill="#000" fill-opacity="0.090"/>
<rect x="351.00" y="164.80" width="1.00" height="6.80" fill="#000" fill-opacity="0.090"/>
<rect x="352.00" y="164.80" width="1.00" height="6.80" fill="#000" fill-opacity="0.060"/>
<rect x="353.00" y="164.80" width="1.00" height="6.80" fill="#000" fill-opacity="0.054"/>
<rect x="354.00" y="164.80" width="1.00" height="6.80" fill="#000" fill-opacity="0.090"/>
<rect x="355.00" y="164.80" width="1.00" height="6.80" fill="#000" fill-opacity="0.090"/>
<rect x="356.00" y="164.80" width="1.00" height="6.80" fill="#000" fill-opacity="0.072"/>
<rect x="357.00" y="164.80" width="1.00" height="6.80" fill="#000" fill-opacity="0.054"/>
<rect x="358.00" y="164.80" width="1.00" height="6.80" fill="#000" fill-opacity="0.054"/>
<rect x="359.00" y="164.80" width="1.00" height="6.80" fill="#000" fill-opacity="0.078"/>
<rect x="360.00" y="164.80" width="1.00" height="6.80" fill="#000" fill-opacity="0.012"/>
<rect x="361.00" y="164.80" width="1.00" height="6.80" fill="#000" fill-opacity="0.006"/>
<rect x="362.00" y="164.80" width="1.00" height="6.80" fill="#000" fill-opacity="0.090"/>
<rect x="363.00" y="164.80" width="1.00" height="6.80" fill="#000" fill-opacity="0.072"/>
<rect x="364.00" y="164.80" width="1.00" height="6.80" fill="#000" fill-opacity="0.048"/>
<rect x="365.00" y="164.80" width="1.00" height="6.80" fill="#000" fill-opacity="0.048"/>
<rect x="366.00" y="164.80" width="1.00" height="6.80" fill="#000" fill-opacity="0.090"/>
<rect x="367.00" y="164.80" width="1.00" height="6.80" fill="#000" fill-opacity="0.072"/>
<rect x="368.00" y="164.80" width="1.00" height="6.80" fill="#000" fill-opacity="0.030"/>
<rect x="369.00" y="164.80" width="1.00" height="6.80" fill="#000" fill-opacity="0.054"/>
<rect x="370.00" y="164.80" width="1.00" height="6.80" fill="#000" fill-opacity="0.060"/>
<rect x="371.00" y="164.80" width="1.00" height="6.80" fill="#000" fill-opacity="0.066"/>
<rect x="372.00" y="164.80" width="1.00" height="6.80" fill="#000" fill-opacity="0.090"/>
<rect x="373.00" y="164.80" width="1.00" height="6.80" fill="#000" fill-opacity="0.060"/>
<rect x="374.00" y="164.80" width="1.00" height="6.80" fill="#000" fill-opacity="0.072"/>
<rect x="375.00" y="164.80" width="1.00" height="6.80" fill="#000" fill-opacity="0.054"/>
<rect x="376.00" y="164.80" width="1.00" height="6.80" fill="#000" fill-opacity="0.042"/>
<rect x="377.00" y="164.80" width="1.00" height="6.80" fill="#000" fill-opacity="0.012"/>
<rect x="378.00" y="164.80" width="1.00" height="6.80" fill="#000" fill-opacity="0.090"/>
<rect x="379.00" y="164.80" width="1.00" height="6.80" fill="#000" fill-opacity="0.090"/>
<rect x="380.00" y="164.80" width="1.00" height="6.80" fill="#000" fill-opacity="0.072"/>
<rect x="381.00" y="164.80" width="1.00" height="6.80" fill="#000" fill-opacity="0.030"/>
<rect x="382.00" y="164.80" width="1.00" height="6.80" fill="#000" fill-opacity="0.048"/>
<rect x="383.00" y="164.80" width="1.00" height="6.80" fill="#000" fill-opacity="0.012"/>
<rect x="385.00" y="164.80" width="1.00" height="6.80" fill="#000" fill-opacity="0.024"/>
<rect x="386.00" y="164.80" width="1.00" height="6.80" fill="#000" fill-opacity="0.066"/>
<rect x="387.00" y="164.80" width="1.00" height="6.80" fill="#000" fill-opacity="0.054"/>
<rect x="388.00" y="164.80" width="1.00" height="6.80" fill="#000" fill-opacity="0.042"/>
<rect x="389.00" y="164.80" width="1.00" height="6.80" fill="#000" fill-opacity="0.006"/>
<rect x="390.00" y="164.80" width="1.00" height="6.80" fill="#000" fill-opacity="0.066"/>
<rect x="391.00" y="164.80" width="1.00" height="6.80" fill="#000" fill-opacity="0.090"/>
<rect x="392.00" y="164.80" width="1.00" height="6.80" fill="#000" fill-opacity="0.048"/>
<rect x="393.00" y="164.80" width="1.00" height="6.80" fill="#000" fill-opacity="0.018"/>
<rect x="394.00" y="164.80" width="1.00" height="6.80" fill="#000" fill-opacity="0.018"/>
<rect x="395.00" y="164.80" width="1.00" height="6.80" fill="#000" fill-opacity="0.042"/>
<rect x="396.00" y="164.80" width="1.00" height="6.80" fill="#000" fill-opacity="0.042"/>
<rect x="397.00" y="164.80" width="1.00" height="6.80" fill="#000" fill-opacity="0.036"/>
<rect x="398.00" y="164.80" width="1.00" height="6.80" fill="#000" fill-opacity="0.072"/>
<rect x="399.00" y="164.80" width="1.00" height="6.80" fill="#000" fill-opacity="0.090"/>
<rect x="400.00" y="164.80" width="1.00" height="6.80" fill="#000" fill-opacity="0.060"/>
<rect x="401.00" y="164.80" width="1.00" height="6.80" fill="#000" fill-opacity="0.024"/>
<rect x="402.00" y="164.80" width="1.00" height="6.80" fill="#000" fill-opacity="0.036"/>
<rect x="403.00" y="164.80" width="1.00" height="6.80" fill="#000" fill-opacity="0.048"/>
<rect x="404.00" y="164.80" width="1.00" height="6.80" fill="#000" fill-opacity="0.036"/>
<rect x="405.00" y="164.80" width="1.00" height="6.80" fill="#000" fill-opacity="0.036"/>
<rect x="406.00" y="164.80" width="1.00" height="6.80" fill="#000" fill-opacity="0.042"/>
<rect x="407.00" y="164.80" width="1.00" height="6.80" fill="#000" fill-opacity="0.030"/>
<rect x="408.00" y="164.80" width="1.00" height="6.80" fill="#000" fill-opacity="0.090"/>
<rect x="409.00" y="164.80" width="1.00" height="6.80" fill="#000" fill-opacity="0.066"/>
<rect x="410.00" y="164.80" width="1.00" height="6.80" fill="#000" fill-opacity="0.048"/>
<rect x="411.00" y="164.80" width="1.00" height="6.80" fill="#000" fill-opacity="0.054"/>
<rect x="412.00" y="164.80" width="1.00" height="6.80" fill="#000" fill-opacity="0.072"/>
<rect x="413.00" y="164.80" width="1.00" height="6.80" fill="#000" fill-opacity="0.060"/>
<rect x="414.00" y="164.80" width="1.00" height="6.80" fill="#000" fill-opacity="0.066"/>
<rect x="415.00" y="164.80" width="1.00" height="6.80" fill="#000" fill-opacity="0.078"/>
<rect x="416.00" y="164.80" width="1.00" height="6.80" fill="#000" fill-opacity="0.090"/>
<rect x="417.00" y="164.80" width="1.00" height="6.80" fill="#000" fill-opacity="0.018"/>
<rect x="418.00" y="164.80" width="1.00" height="6.80" fill="#000" fill-opacity="0.018"/>
<rect x="419.00" y="164.80" width="1.00" height="6.80" fill="#000" fill-opacity="0.024"/>
<rect x="420.00" y="164.80" width="1.00" height="6.80" fill="#000" fill-opacity="0.030"/>
<rect x="421.00" y="164.80" width="1.00" height="6.80" fill="#000" fill-opacity="0.036"/>
<rect x="422.00" y="164.80" width="1.00" height="6.80" fill="#000" fill-opacity="0.048"/>
<rect x="423.00" y="164.80" width="1.00" height="6.80" fill="#000" fill-opacity="0.090"/>
<rect x="424.00" y="164.80" width="1.00" height="6.80" fill="#000" fill-opacity="0.066"/>
<rect x="425.00" y="164.80" width="1.00" height="6.80" fill="#000" fill-opacity="0.048"/>
<rect x="426.00" y="164.80" width="1.00" height="6.80" fill="#000" fill-opacity="0.024"/>
<rect x="427.00" y="164.80" width="1.00" height="6.80" fill="#000" fill-opacity="0.018"/>
<rect x="428.00" y="164.80" width="1.00" height="6.80" fill="#000" fill-opacity="0.048"/>
<rect x="429.00" y="164.80" width="1.00" height="6.80" fill="#000" fill-opacity="0.042"/>
<rect x="430.00" y="164.80" width="1.00" height="6.80" fill="#000" fill-opacity="0.036"/>
<rect x="434.00" y="164.80" width="1.00" height="6.80" fill="#000" fill-opacity="0.006"/>
<rect x="435.00" y="164.80" width="1.00" height="6.80" fill="#000" fill-opacity="0.036"/>
<line x1="228" y1="128.9" x2="447" y2="128.9" stroke="#2c2c2c" stroke-width="1.3"/>
<polyline points="228.7,50.1 229.0,44.5 231.1,44.1 232.5,45.4 238.8,45.4 240.1,46.3 252.9,46.3 259.6,49.0 261.7,48.8 263.7,48.4 290.0,63.4 296.0,66.7 305.4,71.5 317.7,79.2 334.6,90.8 351.5,100.8 365.0,107.4 371.9,111.1 377.3,112.3 388.1,117.7 395.8,120.0 401.9,121.5 409.6,125.1 417.3,124.6 419.6,125.7 422.7,126.6 426.2,124.6 430.4,124.6 435.8,128.5" fill="none" stroke="#c80a2e" stroke-width="1.3" stroke-linejoin="round"/>
<rect x="228" y="39.8" width="219" height="132.2" fill="none" stroke="#1e1e1e" stroke-width="1.4"/>
<text x="223.30" y="51.90" font-size="8.2" stroke="#1c1c1c" stroke-width="0.1" text-anchor="end">0.6</text>
<text x="223.30" y="65.20" font-size="8.2" stroke="#1c1c1c" stroke-width="0.1" text-anchor="end">0.5</text>
<text x="223.30" y="78.50" font-size="8.2" stroke="#1c1c1c" stroke-width="0.1" text-anchor="end">0.4</text>
<text x="223.30" y="91.80" font-size="8.2" stroke="#1c1c1c" stroke-width="0.1" text-anchor="end">0.3</text>
<text x="223.30" y="105.10" font-size="8.2" stroke="#1c1c1c" stroke-width="0.1" text-anchor="end">0.2</text>
<text x="223.30" y="118.40" font-size="8.2" stroke="#1c1c1c" stroke-width="0.1" text-anchor="end">0.1</text>
<text x="223.30" y="131.70" font-size="8.2" stroke="#1c1c1c" stroke-width="0.1" text-anchor="end">0.0</text>
<text x="205.00" y="103.60" font-size="8.6" stroke="#1c1c1c" stroke-width="0.2" text-anchor="middle" textLength="57.50" lengthAdjust="spacingAndGlyphs" transform="rotate(-90 205.00 103.60)">Enrichment score</text>
<text x="225.80" y="16.80" font-size="10.2" stroke="#222" stroke-width="0.45" font-style="italic" textLength="16.20" lengthAdjust="spacingAndGlyphs" fill="#222">IL-7</text>
<text x="225.80" y="16.80" font-size="9.6" stroke="#333" stroke-width="0.2" textLength="1.00" lengthAdjust="spacingAndGlyphs" fill="#333"> </text>
<text x="228.00" y="184.50" font-size="9.3" stroke="#1c1c1c" stroke-width="0.2" textLength="137.60" lengthAdjust="spacingAndGlyphs">Normalized enrichment score = 2.0</text>
<text x="228.00" y="199.10" font-size="9.3" stroke="#1c1c1c" stroke-width="0.2" textLength="99.30" lengthAdjust="spacingAndGlyphs">Nominal p-value &lt; 0.0001</text>
<text x="228.00" y="214.00" font-size="9.3" stroke="#1c1c1c" stroke-width="0.2" textLength="79.00" lengthAdjust="spacingAndGlyphs">FDR q-value = 0.027</text>
<text x="242.90" y="16.80" font-size="10.2" stroke="#333" stroke-width="0.05" textLength="44.00" lengthAdjust="spacingAndGlyphs" fill="#333">Target Genes</text>
<text x="197.70" y="15.80" font-size="11.6" stroke="#111" stroke-width="0.2" font-weight="bold" fill="#111">B</text>
<rect x="37.80" y="360.00" width="219.00" height="1.30" fill="#e6e6e6"/>
<rect x="246.80" y="390.40" width="10.00" height="0.90" fill="#dddddd"/>
<rect x="38.00" y="361.90" width="1.00" height="29.00" fill="#888888"/>
<rect x="39.00" y="361.90" width="1.00" height="29.00" fill="#555555"/>
<rect x="40.00" y="361.90" width="1.00" height="29.00" fill="#000000"/>
<rect x="41.00" y="361.90" width="1.00" height="29.00" fill="#333333"/>
<rect x="42.00" y="361.90" width="1.00" height="29.00" fill="#eeeeee"/>
<rect x="44.00" y="361.90" width="1.00" height="29.00" fill="#eeeeee"/>
<rect x="45.00" y="361.90" width="3.00" height="29.00" fill="#cccccc"/>
<rect x="48.00" y="361.90" width="1.00" height="29.00" fill="#555555"/>
<rect x="49.00" y="361.90" width="1.00" height="29.00" fill="#666666"/>
<rect x="51.00" y="361.90" width="1.00" height="29.00" fill="#eeeeee"/>
<rect x="52.00" y="361.90" width="1.00" height="29.00" fill="#777777"/>
<rect x="53.00" y="361.90" width="1.00" height="29.00" fill="#888888"/>
<rect x="56.00" y="361.90" width="1.00" height="29.00" fill="#eeeeee"/>
<rect x="57.00" y="361.90" width="3.00" height="29.00" fill="#444444"/>
<rect x="60.00" y="361.90" width="1.00" height="29.00" fill="#555555"/>
<rect x="61.00" y="361.90" width="1.00" height="29.00" fill="#eeeeee"/>
<rect x="62.00" y="361.90" width="1.00" height="29.00" fill="#777777"/>
<rect x="63.00" y="361.90" width="2.00" height="29.00" fill="#444444"/>
<rect x="65.00" y="361.90" width="1.00" height="29.00" fill="#777777"/>
<rect x="67.00" y="361.90" width="1.00" height="29.00" fill="#cccccc"/>
<rect x="68.00" y="361.90" width="1.00" height="29.00" fill="#444444"/>
<rect x="69.00" y="361.90" width="1.00" height="29.00" fill="#666666"/>
<rect x="70.00" y="361.90" width="1.00" height="29.00" fill="#aaaaaa"/>
<rect x="73.00" y="361.90" width="1.00" height="29.00" fill="#777777"/>
<rect x="74.00" y="361.90" width="1.00" height="29.00" fill="#333333"/>
<rect x="75.00" y="361.90" width="1.00" height="29.00" fill="#888888"/>
<rect x="77.00" y="361.90" width="1.00" height="29.00" fill="#dddddd"/>
<rect x="78.00" y="361.90" width="1.00" height="29.00" fill="#777777"/>
<rect x="79.00" y="361.90" width="1.00" height="29.00" fill="#aaaaaa"/>
<rect x="81.00" y="361.90" width="1.00" height="29.00" fill="#eeeeee"/>
<rect x="82.00" y="361.90" width="2.00" height="29.00" fill="#aaaaaa"/>
<rect x="84.00" y="361.90" width="1.00" height="29.00" fill="#cccccc"/>
<rect x="85.00" y="361.90" width="1.00" height="29.00" fill="#dddddd"/>
<rect x="86.00" y="361.90" width="2.00" height="29.00" fill="#555555"/>
<rect x="88.00" y="361.90" width="1.00" height="29.00" fill="#aaaaaa"/>
<rect x="93.00" y="361.90" width="1.00" height="29.00" fill="#888888"/>
<rect x="94.00" y="361.90" width="1.00" height="29.00" fill="#999999"/>
<rect x="95.00" y="361.90" width="1.00" height="29.00" fill="#bbbbbb"/>
<rect x="96.00" y="361.90" width="1.00" height="29.00" fill="#dddddd"/>
<rect x="99.00" y="361.90" width="1.00" height="29.00" fill="#eeeeee"/>
<rect x="100.00" y="361.90" width="1.00" height="29.00" fill="#444444"/>
<rect x="101.00" y="361.90" width="1.00" height="29.00" fill="#000000"/>
<rect x="102.00" y="361.90" width="2.00" height="29.00" fill="#999999"/>
<rect x="104.00" y="361.90" width="1.00" height="29.00" fill="#aaaaaa"/>
<rect x="105.00" y="361.90" width="1.00" height="29.00" fill="#999999"/>
<rect x="108.00" y="361.90" width="1.00" height="29.00" fill="#eeeeee"/>
<rect x="109.00" y="361.90" width="2.00" height="29.00" fill="#cccccc"/>
<rect x="149.00" y="361.90" width="2.00" height="29.00" fill="#999999"/>
<rect x="151.00" y="361.90" width="1.00" height="29.00" fill="#eeeeee"/>
<rect x="153.00" y="361.90" width="1.00" height="29.00" fill="#666666"/>
<rect x="156.00" y="361.90" width="1.00" height="29.00" fill="#777777"/>
<rect x="158.00" y="361.90" width="1.00" height="29.00" fill="#aaaaaa"/>
<rect x="159.00" y="361.90" width="1.00" height="29.00" fill="#888888"/>
<rect x="160.00" y="361.90" width="1.00" height="29.00" fill="#cccccc"/>
<rect x="163.00" y="361.90" width="1.00" height="29.00" fill="#555555"/>
<rect x="164.00" y="361.90" width="1.00" height="29.00" fill="#444444"/>
<rect x="165.00" y="361.90" width="1.00" height="29.00" fill="#bbbbbb"/>
<rect x="166.00" y="361.90" width="1.00" height="29.00" fill="#dddddd"/>
<rect x="168.00" y="361.90" width="1.00" height="29.00" fill="#cccccc"/>
<rect x="170.00" y="361.90" width="1.00" height="29.00" fill="#eeeeee"/>
<rect x="171.00" y="361.90" width="1.00" height="29.00" fill="#888888"/>
<rect x="172.00" y="361.90" width="1.00" height="29.00" fill="#aaaaaa"/>
<rect x="175.00" y="361.90" width="1.00" height="29.00" fill="#dddddd"/>
<rect x="176.00" y="361.90" width="1.00" height="29.00" fill="#666666"/>
<rect x="177.00" y="361.90" width="1.00" height="29.00" fill="#aaaaaa"/>
<rect x="178.00" y="361.90" width="1.00" height="29.00" fill="#cccccc"/>
<rect x="180.00" y="361.90" width="1.00" height="29.00" fill="#cccccc"/>
<rect x="181.00" y="361.90" width="1.00" height="29.00" fill="#555555"/>
<rect x="182.00" y="361.90" width="1.00" height="29.00" fill="#444444"/>
<rect x="186.00" y="361.90" width="1.00" height="29.00" fill="#eeeeee"/>
<rect x="187.00" y="361.90" width="1.00" height="29.00" fill="#888888"/>
<rect x="188.00" y="361.90" width="1.00" height="29.00" fill="#eeeeee"/>
<rect x="192.00" y="361.90" width="1.00" height="29.00" fill="#aaaaaa"/>
<rect x="195.00" y="361.90" width="1.00" height="29.00" fill="#444444"/>
<rect x="196.00" y="361.90" width="1.00" height="29.00" fill="#666666"/>
<rect x="204.00" y="361.90" width="1.00" height="29.00" fill="#888888"/>
<rect x="207.00" y="361.90" width="1.00" height="29.00" fill="#777777"/>
<rect x="209.00" y="361.90" width="1.00" height="29.00" fill="#888888"/>
<rect x="210.00" y="361.90" width="1.00" height="29.00" fill="#999999"/>
<rect x="216.00" y="361.90" width="1.00" height="29.00" fill="#444444"/>
<rect x="217.00" y="361.90" width="1.00" height="29.00" fill="#eeeeee"/>
<rect x="218.00" y="361.90" width="1.00" height="29.00" fill="#888888"/>
<rect x="219.00" y="361.90" width="1.00" height="29.00" fill="#999999"/>
<rect x="226.00" y="361.90" width="1.00" height="29.00" fill="#777777"/>
<rect x="236.00" y="361.90" width="1.00" height="29.00" fill="#000000"/>
<rect x="237.00" y="361.90" width="1.00" height="29.00" fill="#eeeeee"/>
<rect x="239.00" y="361.90" width="1.00" height="29.00" fill="#999999"/>
<rect x="240.00" y="361.90" width="1.00" height="29.00" fill="#888888"/>
<rect x="241.00" y="361.90" width="1.00" height="29.00" fill="#aaaaaa"/>
<rect x="37.90" y="391.20" width="26.40" height="7.70" fill="#ee5f5f"/>
<rect x="64.30" y="391.20" width="8.60" height="7.70" fill="#f26879"/>
<rect x="72.90" y="391.20" width="12.30" height="7.70" fill="#f28181"/>
<rect x="85.20" y="391.20" width="2.30" height="7.70" fill="#e6b1d9"/>
<rect x="87.50" y="391.20" width="58.80" height="7.70" fill="#fdc2e8"/>
<rect x="146.30" y="391.20" width="47.70" height="7.70" fill="#cbcbee"/>
<rect x="194.00" y="391.20" width="10.60" height="7.70" fill="#bdb7e6"/>
<rect x="204.60" y="391.20" width="9.20" height="7.70" fill="#8383d1"/>
<rect x="213.80" y="391.20" width="26.50" height="7.70" fill="#645fbc"/>
<rect x="240.30" y="391.20" width="6.30" height="7.70" fill="#4040ab"/>
<rect x="38.00" y="391.20" width="1.00" height="7.70" fill="#000" fill-opacity="0.042"/>
<rect x="39.00" y="391.20" width="1.00" height="7.70" fill="#000" fill-opacity="0.060"/>
<rect x="40.00" y="391.20" width="1.00" height="7.70" fill="#000" fill-opacity="0.090"/>
<rect x="41.00" y="391.20" width="1.00" height="7.70" fill="#000" fill-opacity="0.072"/>
<rect x="42.00" y="391.20" width="1.00" height="7.70" fill="#000" fill-opacity="0.006"/>
<rect x="44.00" y="391.20" width="1.00" height="7.70" fill="#000" fill-opacity="0.006"/>
<rect x="45.00" y="391.20" width="1.00" height="7.70" fill="#000" fill-opacity="0.018"/>
<rect x="46.00" y="391.20" width="1.00" height="7.70" fill="#000" fill-opacity="0.018"/>
<rect x="47.00" y="391.20" width="1.00" height="7.70" fill="#000" fill-opacity="0.018"/>
<rect x="48.00" y="391.20" width="1.00" height="7.70" fill="#000" fill-opacity="0.060"/>
<rect x="49.00" y="391.20" width="1.00" height="7.70" fill="#000" fill-opacity="0.054"/>
<rect x="51.00" y="391.20" width="1.00" height="7.70" fill="#000" fill-opacity="0.006"/>
<rect x="52.00" y="391.20" width="1.00" height="7.70" fill="#000" fill-opacity="0.048"/>
<rect x="53.00" y="391.20" width="1.00" height="7.70" fill="#000" fill-opacity="0.042"/>
<rect x="56.00" y="391.20" width="1.00" height="7.70" fill="#000" fill-opacity="0.006"/>
<rect x="57.00" y="391.20" width="1.00" height="7.70" fill="#000" fill-opacity="0.066"/>
<rect x="58.00" y="391.20" width="1.00" height="7.70" fill="#000" fill-opacity="0.066"/>
<rect x="59.00" y="391.20" width="1.00" height="7.70" fill="#000" fill-opacity="0.066"/>
<rect x="60.00" y="391.20" width="1.00" height="7.70" fill="#000" fill-opacity="0.060"/>
<rect x="61.00" y="391.20" width="1.00" height="7.70" fill="#000" fill-opacity="0.006"/>
<rect x="62.00" y="391.20" width="1.00" height="7.70" fill="#000" fill-opacity="0.048"/>
<rect x="63.00" y="391.20" width="1.00" height="7.70" fill="#000" fill-opacity="0.066"/>
<rect x="64.00" y="391.20" width="1.00" height="7.70" fill="#000" fill-opacity="0.066"/>
<rect x="65.00" y="391.20" width="1.00" height="7.70" fill="#000" fill-opacity="0.048"/>
<rect x="67.00" y="391.20" width="1.00" height="7.70" fill="#000" fill-opacity="0.018"/>
<rect x="68.00" y="391.20" width="1.00" height="7.70" fill="#000" fill-opacity="0.066"/>
<rect x="69.00" y="391.20" width="1.00" height="7.70" fill="#000" fill-opacity="0.054"/>
<rect x="70.00" y="391.20" width="1.00" height="7.70" fill="#000" fill-opacity="0.030"/>
<rect x="73.00" y="391.20" width="1.00" height="7.70" fill="#000" fill-opacity="0.048"/>
<rect x="74.00" y="391.20" width="1.00" height="7.70" fill="#000" fill-opacity="0.072"/>
<rect x="75.00" y="391.20" width="1.00" height="7.70" fill="#000" fill-opacity="0.042"/>
<rect x="77.00" y="391.20" width="1.00" height="7.70" fill="#000" fill-opacity="0.012"/>
<rect x="78.00" y="391.20" width="1.00" height="7.70" fill="#000" fill-opacity="0.048"/>
<rect x="79.00" y="391.20" width="1.00" height="7.70" fill="#000" fill-opacity="0.030"/>
<rect x="81.00" y="391.20" width="1.00" height="7.70" fill="#000" fill-opacity="0.006"/>
<rect x="82.00" y="391.20" width="1.00" height="7.70" fill="#000" fill-opacity="0.030"/>
<rect x="83.00" y="391.20" width="1.00" height="7.70" fill="#000" fill-opacity="0.030"/>
<rect x="84.00" y="391.20" width="1.00" height="7.70" fill="#000" fill-opacity="0.018"/>
<rect x="85.00" y="391.20" width="1.00" height="7.70" fill="#000" fill-opacity="0.012"/>
<rect x="86.00" y="391.20" width="1.00" height="7.70" fill="#000" fill-opacity="0.060"/>
<rect x="87.00" y="391.20" width="1.00" height="7.70" fill="#000" fill-opacity="0.060"/>
<rect x="88.00" y="391.20" width="1.00" height="7.70" fill="#000" fill-opacity="0.030"/>
<rect x="93.00" y="391.20" width="1.00" height="7.70" fill="#000" fill-opacity="0.042"/>
<rect x="94.00" y="391.20" width="1.00" height="7.70" fill="#000" fill-opacity="0.036"/>
<rect x="95.00" y="391.20" width="1.00" height="7.70" fill="#000" fill-opacity="0.024"/>
<rect x="96.00" y="391.20" width="1.00" height="7.70" fill="#000" fill-opacity="0.012"/>
<rect x="99.00" y="391.20" width="1.00" height="7.70" fill="#000" fill-opacity="0.006"/>
<rect x="100.00" y="391.20" width="1.00" height="7.70" fill="#000" fill-opacity="0.066"/>
<rect x="101.00" y="391.20" width="1.00" height="7.70" fill="#000" fill-opacity="0.090"/>
<rect x="102.00" y="391.20" width="1.00" height="7.70" fill="#000" fill-opacity="0.036"/>
<rect x="103.00" y="391.20" width="1.00" height="7.70" fill="#000" fill-opacity="0.036"/>
<rect x="104.00" y="391.20" width="1.00" height="7.70" fill="#000" fill-opacity="0.030"/>
<rect x="105.00" y="391.20" width="1.00" height="7.70" fill="#000" fill-opacity="0.036"/>
<rect x="108.00" y="391.20" width="1.00" height="7.70" fill="#000" fill-opacity="0.006"/>
<rect x="109.00" y="391.20" width="1.00" height="7.70" fill="#000" fill-opacity="0.018"/>
<rect x="110.00" y="391.20" width="1.00" height="7.70" fill="#000" fill-opacity="0.018"/>
<rect x="149.00" y="391.20" width="1.00" height="7.70" fill="#000" fill-opacity="0.036"/>
<rect x="150.00" y="391.20" width="1.00" height="7.70" fill="#000" fill-opacity="0.036"/>
<rect x="151.00" y="391.20" width="1.00" height="7.70" fill="#000" fill-opacity="0.006"/>
<rect x="153.00" y="391.20" width="1.00" height="7.70" fill="#000" fill-opacity="0.054"/>
<rect x="156.00" y="391.20" width="1.00" height="7.70" fill="#000" fill-opacity="0.048"/>
<rect x="158.00" y="391.20" width="1.00" height="7.70" fill="#000" fill-opacity="0.030"/>
<rect x="159.00" y="391.20" width="1.00" height="7.70" fill="#000" fill-opacity="0.042"/>
<rect x="160.00" y="391.20" width="1.00" height="7.70" fill="#000" fill-opacity="0.018"/>
<rect x="163.00" y="391.20" width="1.00" height="7.70" fill="#000" fill-opacity="0.060"/>
<rect x="164.00" y="391.20" width="1.00" height="7.70" fill="#000" fill-opacity="0.066"/>
<rect x="165.00" y="391.20" width="1.00" height="7.70" fill="#000" fill-opacity="0.024"/>
<rect x="166.00" y="391.20" width="1.00" height="7.70" fill="#000" fill-opacity="0.012"/>
<rect x="168.00" y="391.20" width="1.00" height="7.70" fill="#000" fill-opacity="0.018"/>
<rect x="170.00" y="391.20" width="1.00" height="7.70" fill="#000" fill-opacity="0.006"/>
<rect x="171.00" y="391.20" width="1.00" height="7.70" fill="#000" fill-opacity="0.042"/>
<rect x="172.00" y="391.20" width="1.00" height="7.70" fill="#000" fill-opacity="0.030"/>
<rect x="175.00" y="391.20" width="1.00" height="7.70" fill="#000" fill-opacity="0.012"/>
<rect x="176.00" y="391.20" width="1.00" height="7.70" fill="#000" fill-opacity="0.054"/>
<rect x="177.00" y="391.20" width="1.00" height="7.70" fill="#000" fill-opacity="0.030"/>
<rect x="178.00" y="391.20" width="1.00" height="7.70" fill="#000" fill-opacity="0.018"/>
<rect x="180.00" y="391.20" width="1.00" height="7.70" fill="#000" fill-opacity="0.018"/>
<rect x="181.00" y="391.20" width="1.00" height="7.70" fill="#000" fill-opacity="0.060"/>
<rect x="182.00" y="391.20" width="1.00" height="7.70" fill="#000" fill-opacity="0.066"/>
<rect x="186.00" y="391.20" width="1.00" height="7.70" fill="#000" fill-opacity="0.006"/>
<rect x="187.00" y="391.20" width="1.00" height="7.70" fill="#000" fill-opacity="0.042"/>
<rect x="188.00" y="391.20" width="1.00" height="7.70" fill="#000" fill-opacity="0.006"/>
<rect x="192.00" y="391.20" width="1.00" height="7.70" fill="#000" fill-opacity="0.030"/>
<rect x="195.00" y="391.20" width="1.00" height="7.70" fill="#000" fill-opacity="0.066"/>
<rect x="196.00" y="391.20" width="1.00" height="7.70" fill="#000" fill-opacity="0.054"/>
<rect x="204.00" y="391.20" width="1.00" height="7.70" fill="#000" fill-opacity="0.042"/>
<rect x="207.00" y="391.20" width="1.00" height="7.70" fill="#000" fill-opacity="0.048"/>
<rect x="209.00" y="391.20" width="1.00" height="7.70" fill="#000" fill-opacity="0.042"/>
<rect x="210.00" y="391.20" width="1.00" height="7.70" fill="#000" fill-opacity="0.036"/>
<rect x="216.00" y="391.20" width="1.00" height="7.70" fill="#000" fill-opacity="0.066"/>
<rect x="217.00" y="391.20" width="1.00" height="7.70" fill="#000" fill-opacity="0.006"/>
<rect x="218.00" y="391.20" width="1.00" height="7.70" fill="#000" fill-opacity="0.042"/>
<rect x="219.00" y="391.20" width="1.00" height="7.70" fill="#000" fill-opacity="0.036"/>
<rect x="226.00" y="391.20" width="1.00" height="7.70" fill="#000" fill-opacity="0.048"/>
<rect x="236.00" y="391.20" width="1.00" height="7.70" fill="#000" fill-opacity="0.090"/>
<rect x="237.00" y="391.20" width="1.00" height="7.70" fill="#000" fill-opacity="0.006"/>
<rect x="239.00" y="391.20" width="1.00" height="7.70" fill="#000" fill-opacity="0.036"/>
<rect x="240.00" y="391.20" width="1.00" height="7.70" fill="#000" fill-opacity="0.042"/>
<rect x="241.00" y="391.20" width="1.00" height="7.70" fill="#000" fill-opacity="0.030"/>
<line x1="37.3" y1="348" x2="257.3" y2="348" stroke="#2c2c2c" stroke-width="1.3"/>
<polyline points="37.7,325.8 37.7,303.2 39.9,302.7 40.1,296.6 41.0,292.2 41.4,282.5 42.0,277.5 43.2,277.0 44.0,279.0 45.0,277.0 45.8,278.5 46.5,276.5 47.2,277.5 48.0,271.3 49.0,272.5 49.8,275.5 50.5,274.0 51.5,275.0 52.5,273.5 54.5,273.8 56.2,275.8 58.2,273.1 60.2,272.0 62.2,273.1 64.9,272.0 67.6,273.3 71.0,274.2 73.0,275.5 75.0,274.7 80.4,277.1 87.8,279.8 91.2,281.8 100.0,287.2 106.0,291.2 115.4,296.9 130.8,307.7 146.2,317.7 161.5,326.9 172.3,333.1 175.0,334.2 184.2,339.2 193.5,344.2 197.3,344.2 202.7,347.3 206.5,350.1 208.8,348.8 215.3,352.7 217.3,350.8 221.2,350.4 225.8,353.9 228.1,351.9 235.3,356.8 237.3,350.4 238.8,351.9 242.4,344.2 243.9,346.2 247.0,347.8" fill="none" stroke="#c80a2e" stroke-width="1.3" stroke-linejoin="round"/>
<rect x="37.3" y="267" width="220.0" height="132.39999999999998" fill="none" stroke="#1e1e1e" stroke-width="1.4"/>
<text x="33.90" y="284.20" font-size="8.2" stroke="#1c1c1c" stroke-width="0.1" text-anchor="end">0.5</text>
<text x="33.90" y="297.80" font-size="8.2" stroke="#1c1c1c" stroke-width="0.1" text-anchor="end">0.4</text>
<text x="33.90" y="311.40" font-size="8.2" stroke="#1c1c1c" stroke-width="0.1" text-anchor="end">0.3</text>
<text x="33.90" y="325.00" font-size="8.2" stroke="#1c1c1c" stroke-width="0.1" text-anchor="end">0.2</text>
<text x="33.90" y="338.60" font-size="8.2" stroke="#1c1c1c" stroke-width="0.1" text-anchor="end">0.1</text>
<text x="33.90" y="352.10" font-size="8.2" stroke="#1c1c1c" stroke-width="0.1" text-anchor="end">0.0</text>
<text x="16.30" y="331.70" font-size="8.6" stroke="#1c1c1c" stroke-width="0.2" text-anchor="middle" textLength="57.50" lengthAdjust="spacingAndGlyphs" transform="rotate(-90 16.30 331.70)">Enrichment score</text>
<text x="37.30" y="253.60" font-size="10.2" stroke="#222" stroke-width="0.45" font-style="italic" textLength="17.80" lengthAdjust="spacingAndGlyphs" fill="#222">IL7R</text>
<text x="36.80" y="415.70" font-size="9.3" stroke="#1c1c1c" stroke-width="0.2" textLength="137.90" lengthAdjust="spacingAndGlyphs">Normalized enrichment score = 1.6</text>
<text x="36.80" y="430.10" font-size="9.3" stroke="#1c1c1c" stroke-width="0.2" textLength="100.00" lengthAdjust="spacingAndGlyphs">Nominal p-value &lt; 0.0107</text>
<text x="36.80" y="444.50" font-size="9.3" stroke="#1c1c1c" stroke-width="0.2" textLength="79.30" lengthAdjust="spacingAndGlyphs">FDR q-value = 0.288</text>
<text x="56.70" y="253.60" font-size="10.2" stroke="#333" stroke-width="0.05" textLength="40.60" lengthAdjust="spacingAndGlyphs" fill="#333">mutated UP</text>
<text x="8.00" y="253.40" font-size="11.6" stroke="#111" stroke-width="0.2" font-weight="bold" fill="#111">C</text>
<rect x="291.30" y="360.10" width="220.60" height="1.30" fill="#e6e6e6"/>
<rect x="501.80" y="390.40" width="10.10" height="0.90" fill="#dddddd"/>
<rect x="291.00" y="361.60" width="2.00" height="29.30" fill="#000000"/>
<rect x="293.00" y="361.60" width="1.00" height="29.30" fill="#555555"/>
<rect x="294.00" y="361.60" width="2.00" height="29.30" fill="#000000"/>
<rect x="296.00" y="361.60" width="1.00" height="29.30" fill="#222222"/>
<rect x="297.00" y="361.60" width="1.00" height="29.30" fill="#888888"/>
<rect x="298.00" y="361.60" width="1.00" height="29.30" fill="#555555"/>
<rect x="299.00" y="361.60" width="1.00" height="29.30" fill="#000000"/>
<rect x="300.00" y="361.60" width="1.00" height="29.30" fill="#777777"/>
<rect x="301.00" y="361.60" width="5.00" height="29.30" fill="#000000"/>
<rect x="306.00" y="361.60" width="1.00" height="29.30" fill="#333333"/>
<rect x="307.00" y="361.60" width="1.00" height="29.30" fill="#777777"/>
<rect x="308.00" y="361.60" width="1.00" height="29.30" fill="#333333"/>
<rect x="309.00" y="361.60" width="1.00" height="29.30" fill="#000000"/>
<rect x="310.00" y="361.60" width="1.00" height="29.30" fill="#444444"/>
<rect x="311.00" y="361.60" width="3.00" height="29.30" fill="#000000"/>
<rect x="314.00" y="361.60" width="1.00" height="29.30" fill="#bbbbbb"/>
<rect x="315.00" y="361.60" width="1.00" height="29.30" fill="#dddddd"/>
<rect x="316.00" y="361.60" width="1.00" height="29.30" fill="#888888"/>
<rect x="317.00" y="361.60" width="4.00" height="29.30" fill="#000000"/>
<rect x="321.00" y="361.60" width="1.00" height="29.30" fill="#333333"/>
<rect x="322.00" y="361.60" width="1.00" height="29.30" fill="#cccccc"/>
<rect x="323.00" y="361.60" width="1.00" height="29.30" fill="#555555"/>
<rect x="324.00" y="361.60" width="1.00" height="29.30" fill="#dddddd"/>
<rect x="325.00" y="361.60" width="4.00" height="29.30" fill="#000000"/>
<rect x="329.00" y="361.60" width="1.00" height="29.30" fill="#222222"/>
<rect x="330.00" y="361.60" width="1.00" height="29.30" fill="#bbbbbb"/>
<rect x="331.00" y="361.60" width="1.00" height="29.30" fill="#888888"/>
<rect x="332.00" y="361.60" width="1.00" height="29.30" fill="#000000"/>
<rect x="333.00" y="361.60" width="1.00" height="29.30" fill="#555555"/>
<rect x="334.00" y="361.60" width="1.00" height="29.30" fill="#444444"/>
<rect x="335.00" y="361.60" width="1.00" height="29.30" fill="#bbbbbb"/>
<rect x="336.00" y="361.60" width="3.00" height="29.30" fill="#000000"/>
<rect x="339.00" y="361.60" width="1.00" height="29.30" fill="#666666"/>
<rect x="340.00" y="361.60" width="1.00" height="29.30" fill="#999999"/>
<rect x="341.00" y="361.60" width="1.00" height="29.30" fill="#000000"/>
<rect x="342.00" y="361.60" width="2.00" height="29.30" fill="#555555"/>
<rect x="344.00" y="361.60" width="1.00" height="29.30" fill="#aaaaaa"/>
<rect x="345.00" y="361.60" width="1.00" height="29.30" fill="#555555"/>
<rect x="346.00" y="361.60" width="2.00" height="29.30" fill="#000000"/>
<rect x="348.00" y="361.60" width="2.00" height="29.30" fill="#777777"/>
<rect x="350.00" y="361.60" width="1.00" height="29.30" fill="#222222"/>
<rect x="351.00" y="361.60" width="1.00" height="29.30" fill="#777777"/>
<rect x="352.00" y="361.60" width="1.00" height="29.30" fill="#aaaaaa"/>
<rect x="353.00" y="361.60" width="1.00" height="29.30" fill="#666666"/>
<rect x="354.00" y="361.60" width="1.00" height="29.30" fill="#444444"/>
<rect x="355.00" y="361.60" width="1.00" height="29.30" fill="#555555"/>
<rect x="356.00" y="361.60" width="3.00" height="29.30" fill="#000000"/>
<rect x="359.00" y="361.60" width="1.00" height="29.30" fill="#333333"/>
<rect x="360.00" y="361.60" width="1.00" height="29.30" fill="#dddddd"/>
<rect x="361.00" y="361.60" width="1.00" height="29.30" fill="#333333"/>
<rect x="362.00" y="361.60" width="1.00" height="29.30" fill="#444444"/>
<rect x="363.00" y="361.60" width="1.00" height="29.30" fill="#777777"/>
<rect x="364.00" y="361.60" width="1.00" height="29.30" fill="#999999"/>
<rect x="376.00" y="361.60" width="1.00" height="29.30" fill="#bbbbbb"/>
<rect x="385.00" y="361.60" width="1.00" height="29.30" fill="#999999"/>
<rect x="394.00" y="361.60" width="1.00" height="29.30" fill="#999999"/>
<rect x="401.00" y="361.60" width="1.00" height="29.30" fill="#666666"/>
<rect x="402.00" y="361.60" width="1.00" height="29.30" fill="#000000"/>
<rect x="403.00" y="361.60" width="1.00" height="29.30" fill="#666666"/>
<rect x="404.00" y="361.60" width="1.00" height="29.30" fill="#000000"/>
<rect x="405.00" y="361.60" width="1.00" height="29.30" fill="#666666"/>
<rect x="406.00" y="361.60" width="1.00" height="29.30" fill="#555555"/>
<rect x="407.00" y="361.60" width="1.00" height="29.30" fill="#000000"/>
<rect x="408.00" y="361.60" width="1.00" height="29.30" fill="#999999"/>
<rect x="409.00" y="361.60" width="1.00" height="29.30" fill="#aaaaaa"/>
<rect x="410.00" y="361.60" width="6.00" height="29.30" fill="#000000"/>
<rect x="416.00" y="361.60" width="1.00" height="29.30" fill="#333333"/>
<rect x="418.00" y="361.60" width="1.00" height="29.30" fill="#999999"/>
<rect x="419.00" y="361.60" width="1.00" height="29.30" fill="#333333"/>
<rect x="420.00" y="361.60" width="2.00" height="29.30" fill="#000000"/>
<rect x="422.00" y="361.60" width="1.00" height="29.30" fill="#222222"/>
<rect x="423.00" y="361.60" width="2.00" height="29.30" fill="#999999"/>
<rect x="425.00" y="361.60" width="1.00" height="29.30" fill="#444444"/>
<rect x="426.00" y="361.60" width="1.00" height="29.30" fill="#333333"/>
<rect x="427.00" y="361.60" width="1.00" height="29.30" fill="#444444"/>
<rect x="428.00" y="361.60" width="1.00" height="29.30" fill="#222222"/>
<rect x="429.00" y="361.60" width="1.00" height="29.30" fill="#000000"/>
<rect x="430.00" y="361.60" width="1.00" height="29.30" fill="#222222"/>
<rect x="431.00" y="361.60" width="1.00" height="29.30" fill="#666666"/>
<rect x="432.00" y="361.60" width="1.00" height="29.30" fill="#888888"/>
<rect x="433.00" y="361.60" width="1.00" height="29.30" fill="#666666"/>
<rect x="434.00" y="361.60" width="1.00" height="29.30" fill="#333333"/>
<rect x="435.00" y="361.60" width="1.00" height="29.30" fill="#000000"/>
<rect x="436.00" y="361.60" width="1.00" height="29.30" fill="#222222"/>
<rect x="437.00" y="361.60" width="1.00" height="29.30" fill="#555555"/>
<rect x="438.00" y="361.60" width="1.00" height="29.30" fill="#444444"/>
<rect x="439.00" y="361.60" width="1.00" height="29.30" fill="#bbbbbb"/>
<rect x="440.00" y="361.60" width="1.00" height="29.30" fill="#222222"/>
<rect x="441.00" y="361.60" width="4.00" height="29.30" fill="#000000"/>
<rect x="445.00" y="361.60" width="1.00" height="29.30" fill="#333333"/>
<rect x="446.00" y="361.60" width="1.00" height="29.30" fill="#aaaaaa"/>
<rect x="447.00" y="361.60" width="1.00" height="29.30" fill="#888888"/>
<rect x="448.00" y="361.60" width="1.00" height="29.30" fill="#222222"/>
<rect x="449.00" y="361.60" width="8.00" height="29.30" fill="#000000"/>
<rect x="457.00" y="361.60" width="1.00" height="29.30" fill="#777777"/>
<rect x="458.00" y="361.60" width="1.00" height="29.30" fill="#cccccc"/>
<rect x="459.00" y="361.60" width="1.00" height="29.30" fill="#444444"/>
<rect x="460.00" y="361.60" width="7.00" height="29.30" fill="#000000"/>
<rect x="467.00" y="361.60" width="1.00" height="29.30" fill="#222222"/>
<rect x="468.00" y="361.60" width="1.00" height="29.30" fill="#555555"/>
<rect x="469.00" y="361.60" width="1.00" height="29.30" fill="#222222"/>
<rect x="470.00" y="361.60" width="1.00" height="29.30" fill="#999999"/>
<rect x="471.00" y="361.60" width="1.00" height="29.30" fill="#444444"/>
<rect x="472.00" y="361.60" width="1.00" height="29.30" fill="#555555"/>
<rect x="473.00" y="361.60" width="1.00" height="29.30" fill="#222222"/>
<rect x="474.00" y="361.60" width="1.00" height="29.30" fill="#333333"/>
<rect x="475.00" y="361.60" width="1.00" height="29.30" fill="#666666"/>
<rect x="476.00" y="361.60" width="1.00" height="29.30" fill="#222222"/>
<rect x="477.00" y="361.60" width="1.00" height="29.30" fill="#777777"/>
<rect x="478.00" y="361.60" width="2.00" height="29.30" fill="#444444"/>
<rect x="480.00" y="361.60" width="1.00" height="29.30" fill="#333333"/>
<rect x="481.00" y="361.60" width="1.00" height="29.30" fill="#111111"/>
<rect x="482.00" y="361.60" width="1.00" height="29.30" fill="#bbbbbb"/>
<rect x="483.00" y="361.60" width="2.00" height="29.30" fill="#222222"/>
<rect x="485.00" y="361.60" width="1.00" height="29.30" fill="#666666"/>
<rect x="486.00" y="361.60" width="1.00" height="29.30" fill="#222222"/>
<rect x="487.00" y="361.60" width="1.00" height="29.30" fill="#666666"/>
<rect x="488.00" y="361.60" width="1.00" height="29.30" fill="#777777"/>
<rect x="489.00" y="361.60" width="3.00" height="29.30" fill="#000000"/>
<rect x="492.00" y="361.60" width="1.00" height="29.30" fill="#555555"/>
<rect x="493.00" y="361.60" width="1.00" height="29.30" fill="#999999"/>
<rect x="494.00" y="361.60" width="1.00" height="29.30" fill="#000000"/>
<rect x="495.00" y="361.60" width="1.00" height="29.30" fill="#444444"/>
<rect x="496.00" y="361.60" width="1.00" height="29.30" fill="#222222"/>
<rect x="497.00" y="361.60" width="5.00" height="29.30" fill="#000000"/>
<rect x="291.50" y="391.20" width="27.00" height="7.70" fill="#ee5959"/>
<rect x="318.50" y="391.20" width="11.10" height="7.70" fill="#f26879"/>
<rect x="329.60" y="391.20" width="9.90" height="7.70" fill="#ee7d7d"/>
<rect x="339.50" y="391.20" width="61.60" height="7.70" fill="#f7bee6"/>
<rect x="401.10" y="391.20" width="58.10" height="7.70" fill="#c4c4ee"/>
<rect x="459.20" y="391.20" width="9.30" height="7.70" fill="#7979cd"/>
<rect x="468.50" y="391.20" width="25.80" height="7.70" fill="#6259bc"/>
<rect x="494.30" y="391.20" width="7.30" height="7.70" fill="#333392"/>
<rect x="291.00" y="391.20" width="1.00" height="7.70" fill="#000" fill-opacity="0.090"/>
<rect x="292.00" y="391.20" width="1.00" height="7.70" fill="#000" fill-opacity="0.090"/>
<rect x="293.00" y="391.20" width="1.00" height="7.70" fill="#000" fill-opacity="0.060"/>
<rect x="294.00" y="391.20" width="1.00" height="7.70" fill="#000" fill-opacity="0.090"/>
<rect x="295.00" y="391.20" width="1.00" height="7.70" fill="#000" fill-opacity="0.090"/>
<rect x="296.00" y="391.20" width="1.00" height="7.70" fill="#000" fill-opacity="0.078"/>
<rect x="297.00" y="391.20" width="1.00" height="7.70" fill="#000" fill-opacity="0.042"/>
<rect x="298.00" y="391.20" width="1.00" height="7.70" fill="#000" fill-opacity="0.060"/>
<rect x="299.00" y="391.20" width="1.00" height="7.70" fill="#000" fill-opacity="0.090"/>
<rect x="300.00" y="391.20" width="1.00" height="7.70" fill="#000" fill-opacity="0.048"/>
<rect x="301.00" y="391.20" width="1.00" height="7.70" fill="#000" fill-opacity="0.090"/>
<rect x="302.00" y="391.20" width="1.00" height="7.70" fill="#000" fill-opacity="0.090"/>
<rect x="303.00" y="391.20" width="1.00" height="7.70" fill="#000" fill-opacity="0.090"/>
<rect x="304.00" y="391.20" width="1.00" height="7.70" fill="#000" fill-opacity="0.090"/>
<rect x="305.00" y="391.20" width="1.00" height="7.70" fill="#000" fill-opacity="0.090"/>
<rect x="306.00" y="391.20" width="1.00" height="7.70" fill="#000" fill-opacity="0.072"/>
<rect x="307.00" y="391.20" width="1.00" height="7.70" fill="#000" fill-opacity="0.048"/>
<rect x="308.00" y="391.20" width="1.00" height="7.70" fill="#000" fill-opacity="0.072"/>
<rect x="309.00" y="391.20" width="1.00" height="7.70" fill="#000" fill-opacity="0.090"/>
<rect x="310.00" y="391.20" width="1.00" height="7.70" fill="#000" fill-opacity="0.066"/>
<rect x="311.00" y="391.20" width="1.00" height="7.70" fill="#000" fill-opacity="0.090"/>
<rect x="312.00" y="391.20" width="1.00" height="7.70" fill="#000" fill-opacity="0.090"/>
<rect x="313.00" y="391.20" width="1.00" height="7.70" fill="#000" fill-opacity="0.090"/>
<rect x="314.00" y="391.20" width="1.00" height="7.70" fill="#000" fill-opacity="0.024"/>
<rect x="315.00" y="391.20" width="1.00" height="7.70" fill="#000" fill-opacity="0.012"/>
<rect x="316.00" y="391.20" width="1.00" height="7.70" fill="#000" fill-opacity="0.042"/>
<rect x="317.00" y="391.20" width="1.00" height="7.70" fill="#000" fill-opacity="0.090"/>
<rect x="318.00" y="391.20" width="1.00" height="7.70" fill="#000" fill-opacity="0.090"/>
<rect x="319.00" y="391.20" width="1.00" height="7.70" fill="#000" fill-opacity="0.090"/>
<rect x="320.00" y="391.20" width="1.00" height="7.70" fill="#000" fill-opacity="0.090"/>
<rect x="321.00" y="391.20" width="1.00" height="7.70" fill="#000" fill-opacity="0.072"/>
<rect x="322.00" y="391.20" width="1.00" height="7.70" fill="#000" fill-opacity="0.018"/>
<rect x="323.00" y="391.20" width="1.00" height="7.70" fill="#000" fill-opacity="0.060"/>
<rect x="324.00" y="391.20" width="1.00" height="7.70" fill="#000" fill-opacity="0.012"/>
<rect x="325.00" y="391.20" width="1.00" height="7.70" fill="#000" fill-opacity="0.090"/>
<rect x="326.00" y="391.20" width="1.00" height="7.70" fill="#000" fill-opacity="0.090"/>
<rect x="327.00" y="391.20" width="1.00" height="7.70" fill="#000" fill-opacity="0.090"/>
<rect x="328.00" y="391.20" width="1.00" height="7.70" fill="#000" fill-opacity="0.090"/>
<rect x="329.00" y="391.20" width="1.00" height="7.70" fill="#000" fill-opacity="0.078"/>
<rect x="330.00" y="391.20" width="1.00" height="7.70" fill="#000" fill-opacity="0.024"/>
<rect x="331.00" y="391.20" width="1.00" height="7.70" fill="#000" fill-opacity="0.042"/>
<rect x="332.00" y="391.20" width="1.00" height="7.70" fill="#000" fill-opacity="0.090"/>
<rect x="333.00" y="391.20" width="1.00" height="7.70" fill="#000" fill-opacity="0.060"/>
<rect x="334.00" y="391.20" width="1.00" height="7.70" fill="#000" fill-opacity="0.066"/>
<rect x="335.00" y="391.20" width="1.00" height="7.70" fill="#000" fill-opacity="0.024"/>
<rect x="336.00" y="391.20" width="1.00" height="7.70" fill="#000" fill-opacity="0.090"/>
<rect x="337.00" y="391.20" width="1.00" height="7.70" fill="#000" fill-opacity="0.090"/>
<rect x="338.00" y="391.20" width="1.00" height="7.70" fill="#000" fill-opacity="0.090"/>
<rect x="339.00" y="391.20" width="1.00" height="7.70" fill="#000" fill-opacity="0.054"/>
<rect x="340.00" y="391.20" width="1.00" height="7.70" fill="#000" fill-opacity="0.036"/>
<rect x="341.00" y="391.20" width="1.00" height="7.70" fill="#000" fill-opacity="0.090"/>
<rect x="342.00" y="391.20" width="1.00" height="7.70" fill="#000" fill-opacity="0.060"/>
<rect x="343.00" y="391.20" width="1.00" height="7.70" fill="#000" fill-opacity="0.060"/>
<rect x="344.00" y="391.20" width="1.00" height="7.70" fill="#000" fill-opacity="0.030"/>
<rect x="345.00" y="391.20" width="1.00" height="7.70" fill="#000" fill-opacity="0.060"/>
<rect x="346.00" y="391.20" width="1.00" height="7.70" fill="#000" fill-opacity="0.090"/>
<rect x="347.00" y="391.20" width="1.00" height="7.70" fill="#000" fill-opacity="0.090"/>
<rect x="348.00" y="391.20" width="1.00" height="7.70" fill="#000" fill-opacity="0.048"/>
<rect x="349.00" y="391.20" width="1.00" height="7.70" fill="#000" fill-opacity="0.048"/>
<rect x="350.00" y="391.20" width="1.00" height="7.70" fill="#000" fill-opacity="0.078"/>
<rect x="351.00" y="391.20" width="1.00" height="7.70" fill="#000" fill-opacity="0.048"/>
<rect x="352.00" y="391.20" width="1.00" height="7.70" fill="#000" fill-opacity="0.030"/>
<rect x="353.00" y="391.20" width="1.00" height="7.70" fill="#000" fill-opacity="0.054"/>
<rect x="354.00" y="391.20" width="1.00" height="7.70" fill="#000" fill-opacity="0.066"/>
<rect x="355.00" y="391.20" width="1.00" height="7.70" fill="#000" fill-opacity="0.060"/>
<rect x="356.00" y="391.20" width="1.00" height="7.70" fill="#000" fill-opacity="0.090"/>
<rect x="357.00" y="391.20" width="1.00" height="7.70" fill="#000" fill-opacity="0.090"/>
<rect x="358.00" y="391.20" width="1.00" height="7.70" fill="#000" fill-opacity="0.090"/>
<rect x="359.00" y="391.20" width="1.00" height="7.70" fill="#000" fill-opacity="0.072"/>
<rect x="360.00" y="391.20" width="1.00" height="7.70" fill="#000" fill-opacity="0.012"/>
<rect x="361.00" y="391.20" width="1.00" height="7.70" fill="#000" fill-opacity="0.072"/>
<rect x="362.00" y="391.20" width="1.00" height="7.70" fill="#000" fill-opacity="0.066"/>
<rect x="363.00" y="391.20" width="1.00" height="7.70" fill="#000" fill-opacity="0.048"/>
<rect x="364.00" y="391.20" width="1.00" height="7.70" fill="#000" fill-opacity="0.036"/>
<rect x="376.00" y="391.20" width="1.00" height="7.70" fill="#000" fill-opacity="0.024"/>
<rect x="385.00" y="391.20" width="1.00" height="7.70" fill="#000" fill-opacity="0.036"/>
<rect x="394.00" y="391.20" width="1.00" height="7.70" fill="#000" fill-opacity="0.036"/>
<rect x="401.00" y="391.20" width="1.00" height="7.70" fill="#000" fill-opacity="0.054"/>
<rect x="402.00" y="391.20" width="1.00" height="7.70" fill="#000" fill-opacity="0.090"/>
<rect x="403.00" y="391.20" width="1.00" height="7.70" fill="#000" fill-opacity="0.054"/>
<rect x="404.00" y="391.20" width="1.00" height="7.70" fill="#000" fill-opacity="0.090"/>
<rect x="405.00" y="391.20" width="1.00" height="7.70" fill="#000" fill-opacity="0.054"/>
<rect x="406.00" y="391.20" width="1.00" height="7.70" fill="#000" fill-opacity="0.060"/>
<rect x="407.00" y="391.20" width="1.00" height="7.70" fill="#000" fill-opacity="0.090"/>
<rect x="408.00" y="391.20" width="1.00" height="7.70" fill="#000" fill-opacity="0.036"/>
<rect x="409.00" y="391.20" width="1.00" height="7.70" fill="#000" fill-opacity="0.030"/>
<rect x="410.00" y="391.20" width="1.00" height="7.70" fill="#000" fill-opacity="0.090"/>
<rect x="411.00" y="391.20" width="1.00" height="7.70" fill="#000" fill-opacity="0.090"/>
<rect x="412.00" y="391.20" width="1.00" height="7.70" fill="#000" fill-opacity="0.090"/>
<rect x="413.00" y="391.20" width="1.00" height="7.70" fill="#000" fill-opacity="0.090"/>
<rect x="414.00" y="391.20" width="1.00" height="7.70" fill="#000" fill-opacity="0.090"/>
<rect x="415.00" y="391.20" width="1.00" height="7.70" fill="#000" fill-opacity="0.090"/>
<rect x="416.00" y="391.20" width="1.00" height="7.70" fill="#000" fill-opacity="0.072"/>
<rect x="418.00" y="391.20" width="1.00" height="7.70" fill="#000" fill-opacity="0.036"/>
<rect x="419.00" y="391.20" width="1.00" height="7.70" fill="#000" fill-opacity="0.072"/>
<rect x="420.00" y="391.20" width="1.00" height="7.70" fill="#000" fill-opacity="0.090"/>
<rect x="421.00" y="391.20" width="1.00" height="7.70" fill="#000" fill-opacity="0.090"/>
<rect x="422.00" y="391.20" width="1.00" height="7.70" fill="#000" fill-opacity="0.078"/>
<rect x="423.00" y="391.20" width="1.00" height="7.70" fill="#000" fill-opacity="0.036"/>
<rect x="424.00" y="391.20" width="1.00" height="7.70" fill="#000" fill-opacity="0.036"/>
<rect x="425.00" y="391.20" width="1.00" height="7.70" fill="#000" fill-opacity="0.066"/>
<rect x="426.00" y="391.20" width="1.00" height="7.70" fill="#000" fill-opacity="0.072"/>
<rect x="427.00" y="391.20" width="1.00" height="7.70" fill="#000" fill-opacity="0.066"/>
<rect x="428.00" y="391.20" width="1.00" height="7.70" fill="#000" fill-opacity="0.078"/>
<rect x="429.00" y="391.20" width="1.00" height="7.70" fill="#000" fill-opacity="0.090"/>
<rect x="430.00" y="391.20" width="1.00" height="7.70" fill="#000" fill-opacity="0.078"/>
<rect x="431.00" y="391.20" width="1.00" height="7.70" fill="#000" fill-opacity="0.054"/>
<rect x="432.00" y="391.20" width="1.00" height="7.70" fill="#000" fill-opacity="0.042"/>
<rect x="433.00" y="391.20" width="1.00" height="7.70" fill="#000" fill-opacity="0.054"/>
<rect x="434.00" y="391.20" width="1.00" height="7.70" fill="#000" fill-opacity="0.072"/>
<rect x="435.00" y="391.20" width="1.00" height="7.70" fill="#000" fill-opacity="0.090"/>
<rect x="436.00" y="391.20" width="1.00" height="7.70" fill="#000" fill-opacity="0.078"/>
<rect x="437.00" y="391.20" width="1.00" height="7.70" fill="#000" fill-opacity="0.060"/>
<rect x="438.00" y="391.20" width="1.00" height="7.70" fill="#000" fill-opacity="0.066"/>
<rect x="439.00" y="391.20" width="1.00" height="7.70" fill="#000" fill-opacity="0.024"/>
<rect x="440.00" y="391.20" width="1.00" height="7.70" fill="#000" fill-opacity="0.078"/>
<rect x="441.00" y="391.20" width="1.00" height="7.70" fill="#000" fill-opacity="0.090"/>
<rect x="442.00" y="391.20" width="1.00" height="7.70" fill="#000" fill-opacity="0.090"/>
<rect x="443.00" y="391.20" width="1.00" height="7.70" fill="#000" fill-opacity="0.090"/>
<rect x="444.00" y="391.20" width="1.00" height="7.70" fill="#000" fill-opacity="0.090"/>
<rect x="445.00" y="391.20" width="1.00" height="7.70" fill="#000" fill-opacity="0.072"/>
<rect x="446.00" y="391.20" width="1.00" height="7.70" fill="#000" fill-opacity="0.030"/>
<rect x="447.00" y="391.20" width="1.00" height="7.70" fill="#000" fill-opacity="0.042"/>
<rect x="448.00" y="391.20" width="1.00" height="7.70" fill="#000" fill-opacity="0.078"/>
<rect x="449.00" y="391.20" width="1.00" height="7.70" fill="#000" fill-opacity="0.090"/>
<rect x="450.00" y="391.20" width="1.00" height="7.70" fill="#000" fill-opacity="0.090"/>
<rect x="451.00" y="391.20" width="1.00" height="7.70" fill="#000" fill-opacity="0.090"/>
<rect x="452.00" y="391.20" width="1.00" height="7.70" fill="#000" fill-opacity="0.090"/>
<rect x="453.00" y="391.20" width="1.00" height="7.70" fill="#000" fill-opacity="0.090"/>
<rect x="454.00" y="391.20" width="1.00" height="7.70" fill="#000" fill-opacity="0.090"/>
<rect x="455.00" y="391.20" width="1.00" height="7.70" fill="#000" fill-opacity="0.090"/>
<rect x="456.00" y="391.20" width="1.00" height="7.70" fill="#000" fill-opacity="0.090"/>
<rect x="457.00" y="391.20" width="1.00" height="7.70" fill="#000" fill-opacity="0.048"/>
<rect x="458.00" y="391.20" width="1.00" height="7.70" fill="#000" fill-opacity="0.018"/>
<rect x="459.00" y="391.20" width="1.00" height="7.70" fill="#000" fill-opacity="0.066"/>
<rect x="460.00" y="391.20" width="1.00" height="7.70" fill="#000" fill-opacity="0.090"/>
<rect x="461.00" y="391.20" width="1.00" height="7.70" fill="#000" fill-opacity="0.090"/>
<rect x="462.00" y="391.20" width="1.00" height="7.70" fill="#000" fill-opacity="0.090"/>
<rect x="463.00" y="391.20" width="1.00" height="7.70" fill="#000" fill-opacity="0.090"/>
<rect x="464.00" y="391.20" width="1.00" height="7.70" fill="#000" fill-opacity="0.090"/>
<rect x="465.00" y="391.20" width="1.00" height="7.70" fill="#000" fill-opacity="0.090"/>
<rect x="466.00" y="391.20" width="1.00" height="7.70" fill="#000" fill-opacity="0.090"/>
<rect x="467.00" y="391.20" width="1.00" height="7.70" fill="#000" fill-opacity="0.078"/>
<rect x="468.00" y="391.20" width="1.00" height="7.70" fill="#000" fill-opacity="0.060"/>
<rect x="469.00" y="391.20" width="1.00" height="7.70" fill="#000" fill-opacity="0.078"/>
<rect x="470.00" y="391.20" width="1.00" height="7.70" fill="#000" fill-opacity="0.036"/>
<rect x="471.00" y="391.20" width="1.00" height="7.70" fill="#000" fill-opacity="0.066"/>
<rect x="472.00" y="391.20" width="1.00" height="7.70" fill="#000" fill-opacity="0.060"/>
<rect x="473.00" y="391.20" width="1.00" height="7.70" fill="#000" fill-opacity="0.078"/>
<rect x="474.00" y="391.20" width="1.00" height="7.70" fill="#000" fill-opacity="0.072"/>
<rect x="475.00" y="391.20" width="1.00" height="7.70" fill="#000" fill-opacity="0.054"/>
<rect x="476.00" y="391.20" width="1.00" height="7.70" fill="#000" fill-opacity="0.078"/>
<rect x="477.00" y="391.20" width="1.00" height="7.70" fill="#000" fill-opacity="0.048"/>
<rect x="478.00" y="391.20" width="1.00" height="7.70" fill="#000" fill-opacity="0.066"/>
<rect x="479.00" y="391.20" width="1.00" height="7.70" fill="#000" fill-opacity="0.066"/>
<rect x="480.00" y="391.20" width="1.00" height="7.70" fill="#000" fill-opacity="0.072"/>
<rect x="481.00" y="391.20" width="1.00" height="7.70" fill="#000" fill-opacity="0.084"/>
<rect x="482.00" y="391.20" width="1.00" height="7.70" fill="#000" fill-opacity="0.024"/>
<rect x="483.00" y="391.20" width="1.00" height="7.70" fill="#000" fill-opacity="0.078"/>
<rect x="484.00" y="391.20" width="1.00" height="7.70" fill="#000" fill-opacity="0.078"/>
<rect x="485.00" y="391.20" width="1.00" height="7.70" fill="#000" fill-opacity="0.054"/>
<rect x="486.00" y="391.20" width="1.00" height="7.70" fill="#000" fill-opacity="0.078"/>
<rect x="487.00" y="391.20" width="1.00" height="7.70" fill="#000" fill-opacity="0.054"/>
<rect x="488.00" y="391.20" width="1.00" height="7.70" fill="#000" fill-opacity="0.048"/>
<rect x="489.00" y="391.20" width="1.00" height="7.70" fill="#000" fill-opacity="0.090"/>
<rect x="490.00" y="391.20" width="1.00" height="7.70" fill="#000" fill-opacity="0.090"/>
<rect x="491.00" y="391.20" width="1.00" height="7.70" fill="#000" fill-opacity="0.090"/>
<rect x="492.00" y="391.20" width="1.00" height="7.70" fill="#000" fill-opacity="0.060"/>
<rect x="493.00" y="391.20" width="1.00" height="7.70" fill="#000" fill-opacity="0.036"/>
<rect x="494.00" y="391.20" width="1.00" height="7.70" fill="#000" fill-opacity="0.090"/>
<rect x="495.00" y="391.20" width="1.00" height="7.70" fill="#000" fill-opacity="0.066"/>
<rect x="496.00" y="391.20" width="1.00" height="7.70" fill="#000" fill-opacity="0.078"/>
<rect x="497.00" y="391.20" width="1.00" height="7.70" fill="#000" fill-opacity="0.090"/>
<rect x="498.00" y="391.20" width="1.00" height="7.70" fill="#000" fill-opacity="0.090"/>
<rect x="499.00" y="391.20" width="1.00" height="7.70" fill="#000" fill-opacity="0.090"/>
<rect x="500.00" y="391.20" width="1.00" height="7.70" fill="#000" fill-opacity="0.090"/>
<rect x="501.00" y="391.20" width="1.00" height="7.70" fill="#000" fill-opacity="0.090"/>
<line x1="290.8" y1="304.2" x2="512.4" y2="304.2" stroke="#2c2c2c" stroke-width="1.3"/>
<line x1="290.8" y1="348.3" x2="512.4" y2="348.3" stroke="#2c2c2c" stroke-width="1.3"/>
<polyline points="291.5,304.2 291.5,287.9 292.6,284.4 294.8,280.0 296.1,275.6 298.3,274.3 301.9,272.5 306.3,272.5 307.1,271.6 313.8,271.6 316.4,273.8 319.5,274.7 324.8,276.9 326.2,277.3 331.5,279.2 343.1,287.3 358.5,297.3 372.3,304.7 386.2,313.9 400.0,323.5 410.4,329.6 425.8,339.6 441.2,347.8 448.8,351.5 459.6,355.0 467.3,356.2 475.0,356.2 482.0,355.3 488.7,352.2 492.0,348.2 495.3,345.0 498.6,342.7 499.7,335.0 500.8,324.0 501.9,313.0 502.6,304.1" fill="none" stroke="#c80a2e" stroke-width="1.3" stroke-linejoin="round"/>
<rect x="290.8" y="267.2" width="221.59999999999997" height="132.2" fill="none" stroke="#1e1e1e" stroke-width="1.4"/>
<text x="286.30" y="279.40" font-size="8.2" stroke="#1c1c1c" stroke-width="0.1" text-anchor="end">0.2</text>
<text x="286.30" y="293.30" font-size="8.2" stroke="#1c1c1c" stroke-width="0.1" text-anchor="end">0.1</text>
<text x="286.30" y="307.20" font-size="8.2" stroke="#1c1c1c" stroke-width="0.1" text-anchor="end">0.0</text>
<text x="286.30" y="320.90" font-size="8.2" stroke="#1c1c1c" stroke-width="0.1" text-anchor="end">-0.1</text>
<text x="286.30" y="334.80" font-size="8.2" stroke="#1c1c1c" stroke-width="0.1" text-anchor="end">-0.2</text>
<text x="286.30" y="348.80" font-size="8.2" stroke="#1c1c1c" stroke-width="0.1" text-anchor="end">-0.3</text>
<text x="286.30" y="362.70" font-size="8.2" stroke="#1c1c1c" stroke-width="0.1" text-anchor="end">-0.4</text>
<text x="267.30" y="333.60" font-size="8.6" stroke="#1c1c1c" stroke-width="0.2" text-anchor="middle" textLength="57.50" lengthAdjust="spacingAndGlyphs" transform="rotate(-90 267.30 333.60)">Enrichment score</text>
<text x="291.70" y="253.90" font-size="10.2" stroke="#222" stroke-width="0.45" font-style="italic" textLength="18.50" lengthAdjust="spacingAndGlyphs" fill="#222">IL7R</text>
<text x="291.60" y="415.70" font-size="9.3" stroke="#1c1c1c" stroke-width="0.2" textLength="137.90" lengthAdjust="spacingAndGlyphs">Normalized enrichment score = 1.3</text>
<text x="291.60" y="430.10" font-size="9.3" stroke="#1c1c1c" stroke-width="0.2" textLength="101.30" lengthAdjust="spacingAndGlyphs">Nominal p-value &lt; 0.0069</text>
<text x="291.60" y="444.50" font-size="9.3" stroke="#1c1c1c" stroke-width="0.2" textLength="79.60" lengthAdjust="spacingAndGlyphs">FDR q-value = 0.030</text>
<text x="312.20" y="253.90" font-size="10.2" stroke="#333" stroke-width="0.05" textLength="53.90" lengthAdjust="spacingAndGlyphs" fill="#333">mutated DOWN</text>
<rect x="0.00" y="0.00" width="520.00" height="1.20" fill="#000"/>
<rect x="0.00" y="0.00" width="1.20" height="454.00" fill="#000"/>
<rect x="518.55" y="0.00" width="1.45" height="454.00" fill="#000"/>
<rect x="0.00" y="452.75" width="520.00" height="1.25" fill="#000"/></svg>
</body></html>
